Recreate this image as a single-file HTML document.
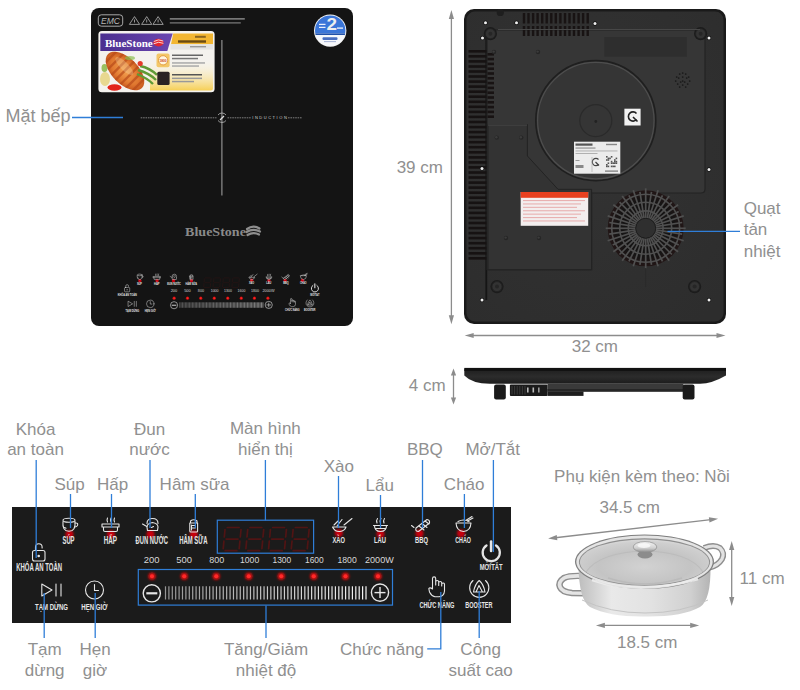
<!DOCTYPE html>
<html><head><meta charset="utf-8"><style>
html,body{margin:0;padding:0;background:#fff;}
body{width:800px;height:690px;position:relative;overflow:hidden;font-family:"Liberation Sans",sans-serif;}
.t{position:absolute;color:#909090;white-space:nowrap;}
svg{position:absolute;left:0;top:0;}
</style></head><body>
<svg width="800" height="690" viewBox="0 0 800 690">
<rect x="91" y="8" width="262" height="318" rx="8" fill="#141414"/>
<rect x="98.3" y="14.8" width="24.4" height="11.4" rx="3" fill="none" stroke="#b8b8b8" stroke-width="0.9"/>
<text x="101" y="24.2" font-family="Liberation Sans" font-style="italic" font-size="9.5" fill="#b8b8b8" textLength="19" lengthAdjust="spacingAndGlyphs">EMC</text>
<path d="M134.5 16.6 L139.6 24.4 H129.4 Z" fill="none" stroke="#b8b8b8" stroke-width="0.8"/>
<path d="M134.5 19.5 V22.5" stroke="#b8b8b8" stroke-width="0.8"/>
<path d="M146.7 16.6 L151.8 24.4 H141.6 Z" fill="none" stroke="#b8b8b8" stroke-width="0.8"/>
<path d="M146.7 19.5 V22.5" stroke="#b8b8b8" stroke-width="0.8"/>
<path d="M158.1 16.6 L163.2 24.4 H153.0 Z" fill="none" stroke="#b8b8b8" stroke-width="0.8"/>
<path d="M158.1 19.5 V22.5" stroke="#b8b8b8" stroke-width="0.8"/>
<rect x="169.8" y="18" width="75" height="1.7" fill="#777"/>
<rect x="169.8" y="22" width="71" height="1.7" fill="#5e5e5e"/>
<rect x="98.4" y="30.9" width="116.2" height="61.3" rx="3.5" fill="#f4f2ee"/>
<defs><linearGradient id="pur" x1="0" x2="1"><stop offset="0" stop-color="#4b2f8f"/><stop offset="1" stop-color="#6a46b0"/></linearGradient><linearGradient id="yel" x1="0" x2="0" y1="0" y2="1"><stop offset="0" stop-color="#fff8e0" stop-opacity="0"/><stop offset="1" stop-color="#f6cf55"/></linearGradient><radialGradient id="fish" cx="0.5" cy="0.5" r="0.5"><stop offset="0" stop-color="#f3a050"/><stop offset="0.7" stop-color="#e07830"/><stop offset="1" stop-color="#c85a20"/></radialGradient></defs>
<path d="M100.3 33.4 H172.7 L167.3 51 H100.3 Z" fill="url(#pur)"/>
<path d="M173.2 33.4 H213 V44.2 H171 Z" fill="#f2b632"/>
<rect x="170.4" y="44.2" width="42.6" height="5.4" fill="#e4e4e4"/>
<text x="104.9" y="47" font-family="Liberation Serif" font-weight="bold" font-size="10.5" fill="#fff" textLength="47.8" lengthAdjust="spacingAndGlyphs">BlueStone</text>
<ellipse cx="158.5" cy="42.6" rx="5.2" ry="3.8" fill="#e3262e"/>
<path d="M153.8 41.5 Q158.5 38.5 163.2 41 M153.6 43.8 Q158.5 41 163.4 43.3" fill="none" stroke="#fff" stroke-width="0.8"/>
<rect x="195" y="35.8" width="10.8" height="2" fill="#8a6520"/>
<rect x="178" y="40.3" width="28" height="2.4" fill="#6a4a12"/>
<rect x="190" y="46" width="16" height="1.4" fill="#999"/>
<path d="M150 60 H213 V88 Q213 90.5 210.5 90.5 H150 Z" fill="url(#yel)"/>
<ellipse cx="105" cy="79" rx="5" ry="7" fill="#e8d890"/>
<ellipse cx="104.5" cy="68" rx="3" ry="4" fill="#9ac060"/>
<clipPath id="fishc"><ellipse cx="125" cy="71" rx="24" ry="13"/></clipPath>
<g transform="rotate(45 125 71)"><ellipse cx="125" cy="71" rx="24" ry="13" fill="url(#fish)"/><g clip-path="url(#fishc)"><rect x="104.0" y="56" width="2.4" height="30" fill="#b84a1a" opacity="0.7"/><rect x="110.5" y="56" width="2.4" height="30" fill="#b84a1a" opacity="0.7"/><rect x="117.0" y="56" width="2.4" height="30" fill="#b84a1a" opacity="0.7"/><rect x="123.5" y="56" width="2.4" height="30" fill="#b84a1a" opacity="0.7"/><rect x="130.0" y="56" width="2.4" height="30" fill="#b84a1a" opacity="0.7"/><rect x="136.5" y="56" width="2.4" height="30" fill="#b84a1a" opacity="0.7"/><rect x="143.0" y="56" width="2.4" height="30" fill="#b84a1a" opacity="0.7"/></g><ellipse cx="121" cy="68" rx="12" ry="4" fill="#f8e0b0" opacity="0.3"/></g>
<path d="M140 66 Q150 68 157 75 M138 70 Q149 73 156 80 M137 74 Q147 78 153 84" stroke="#5f9a35" stroke-width="2.4" fill="none"/>
<ellipse cx="114.5" cy="87.5" rx="7" ry="3.2" fill="#e2231a"/>
<circle cx="140.2" cy="63.5" r="2.6" fill="#e23a2a"/>
<ellipse cx="130" cy="58" rx="5" ry="2" fill="#8abf50" opacity="0.7"/>
<rect x="156.5" y="53.4" width="13.1" height="13.8" rx="2" fill="#f3c768"/>
<circle cx="163.1" cy="60.3" r="4.6" fill="#fff6e0" stroke="#e0902a" stroke-width="0.8"/>
<text x="159.6" y="61.8" font-family="Liberation Sans" font-weight="bold" font-size="3.6" fill="#c84010" textLength="7" lengthAdjust="spacingAndGlyphs">1800</text>
<rect x="157.3" y="71.8" width="12.3" height="13.2" rx="1.5" fill="#2b2323"/>
<rect x="172" y="54.5" width="31" height="1.5" fill="#666"/>
<rect x="172" y="57.8" width="26" height="1.5" fill="#777"/>
<rect x="172" y="62.2" width="33" height="1.5" fill="#aaa"/>
<rect x="172" y="65.3" width="27" height="1.5" fill="#aaa"/>
<rect x="172" y="74" width="30" height="1.5" fill="#555"/>
<rect x="172" y="77.6" width="30" height="1.5" fill="#999"/>
<rect x="172" y="80.8" width="22" height="1.5" fill="#999"/>
<line x1="221.9" y1="40" x2="221.9" y2="195.5" stroke="#9a9a9a" stroke-width="1.1"/>
<line x1="140.7" y1="117.8" x2="216.5" y2="117.8" stroke="#8a8a8a" stroke-width="0.9" stroke-dasharray="1.6 0.8"/>
<line x1="227.5" y1="117.8" x2="251" y2="117.8" stroke="#8a8a8a" stroke-width="0.9" stroke-dasharray="1.6 0.8"/>
<line x1="288" y1="117.8" x2="302.2" y2="117.8" stroke="#8a8a8a" stroke-width="0.9" stroke-dasharray="1.6 0.8"/>
<text x="252.3" y="119.4" font-family="Liberation Sans" font-size="4" fill="#cfcfcf" textLength="34.5" lengthAdjust="spacing">INDUCTION</text>
<path d="M218 115 A5 5 0 0 1 226 115 M226 120.5 A5 5 0 0 1 218 120.5" fill="none" stroke="#bbb" stroke-width="0.8"/>
<path d="M220 120 L224 116" stroke="#ddd" stroke-width="1.2"/>
<clipPath id="wc"><circle cx="330.2" cy="30.6" r="15.2"/></clipPath>
<circle cx="330.2" cy="30.6" r="16.2" fill="#f4f4f4"/>
<g clip-path="url(#wc)"><rect x="314" y="14" width="33" height="19.5" fill="#3b76d8"/><rect x="314" y="33.5" width="33" height="1.6" fill="#1f4fa8"/><rect x="314" y="35.1" width="33" height="12" fill="#f6f8fc"/></g>
<text x="326.6" y="30.2" font-family="Liberation Sans" font-weight="bold" font-size="16.5" fill="#eeeeee" textLength="10.5" lengthAdjust="spacingAndGlyphs">2</text>
<rect x="319" y="23.8" width="6.5" height="1.1" fill="#fff"/><rect x="319" y="26.8" width="6.5" height="1.1" fill="#fff"/><rect x="337" y="27.5" width="6" height="1.2" fill="#fff"/>
<rect x="322.5" y="37.3" width="15" height="2.6" fill="#4a6fc0" rx="1"/><rect x="324" y="41.2" width="12" height="0.9" fill="#9aaad0"/>
<text x="185.1" y="236.3" font-family="Liberation Serif" font-weight="bold" font-size="13.5" fill="#8a8a8a" textLength="60.8" lengthAdjust="spacingAndGlyphs">BlueStone</text>
<path d="M247 229 Q253 224.5 259.5 228.5 M246.5 232 Q253 228 260 231.5 M247.5 235 Q253 231.5 259 234.5" fill="none" stroke="#8e8e8e" stroke-width="2.2" stroke-linecap="round"/>
<g transform="translate(111.04,59) scale(0.415)"><circle cx="69.5" cy="534.3" r="4" fill="#c80010" filter="url(#glow)"/>
<circle cx="111" cy="534.3" r="4" fill="#c80010" filter="url(#glow)"/>
<circle cx="150.5" cy="534.3" r="4" fill="#c80010" filter="url(#glow)"/>
<circle cx="193.8" cy="534.3" r="4" fill="#c80010" filter="url(#glow)"/>
<circle cx="338.8" cy="533" r="4" fill="#c80010" filter="url(#glow)"/>
<circle cx="380.5" cy="534" r="4" fill="#c80010" filter="url(#glow)"/>
<circle cx="419.5" cy="533.5" r="4" fill="#c80010" filter="url(#glow)"/>
<circle cx="461" cy="533.5" r="4" fill="#c80010" filter="url(#glow)"/>
<circle cx="152" cy="576.3" r="3.8" fill="#d01010" filter="url(#glow)"/>
<circle cx="152" cy="576.3" r="2.0" fill="#ff2a2a"/>
<circle cx="184.25" cy="576.3" r="3.8" fill="#d01010" filter="url(#glow)"/>
<circle cx="184.25" cy="576.3" r="2.0" fill="#ff2a2a"/>
<circle cx="216.25" cy="576.3" r="3.8" fill="#d01010" filter="url(#glow)"/>
<circle cx="216.25" cy="576.3" r="2.0" fill="#ff2a2a"/>
<circle cx="248.75" cy="576.3" r="3.8" fill="#d01010" filter="url(#glow)"/>
<circle cx="248.75" cy="576.3" r="2.0" fill="#ff2a2a"/>
<circle cx="281.25" cy="576.3" r="3.8" fill="#d01010" filter="url(#glow)"/>
<circle cx="281.25" cy="576.3" r="2.0" fill="#ff2a2a"/>
<circle cx="313.75" cy="576.3" r="3.8" fill="#d01010" filter="url(#glow)"/>
<circle cx="313.75" cy="576.3" r="2.0" fill="#ff2a2a"/>
<circle cx="345.5" cy="576.3" r="3.8" fill="#d01010" filter="url(#glow)"/>
<circle cx="345.5" cy="576.3" r="2.0" fill="#ff2a2a"/>
<circle cx="378" cy="576.3" r="3.8" fill="#d01010" filter="url(#glow)"/>
<circle cx="378" cy="576.3" r="2.0" fill="#ff2a2a"/>
<text x="62.5" y="543.6" font-family="Liberation Sans" font-weight="bold" font-size="10.28" fill="#e6e6e6" textLength="12.00" lengthAdjust="spacingAndGlyphs">SÚP</text>
<text x="103.75" y="543.6" font-family="Liberation Sans" font-weight="bold" font-size="10.28" fill="#e6e6e6" textLength="13.25" lengthAdjust="spacingAndGlyphs">HẤP</text>
<text x="135.5" y="543.6" font-family="Liberation Sans" font-weight="bold" font-size="10.28" fill="#e6e6e6" textLength="32.50" lengthAdjust="spacingAndGlyphs">ĐUN NƯỚC</text>
<text x="179.25" y="543.6" font-family="Liberation Sans" font-weight="bold" font-size="10.28" fill="#e6e6e6" textLength="28.25" lengthAdjust="spacingAndGlyphs">HÂM SỮA</text>
<text x="332.5" y="543.0" font-family="Liberation Sans" font-weight="bold" font-size="9.44" fill="#e6e6e6" textLength="12.50" lengthAdjust="spacingAndGlyphs">XÀO</text>
<text x="374" y="543.0" font-family="Liberation Sans" font-weight="bold" font-size="9.44" fill="#e6e6e6" textLength="12.00" lengthAdjust="spacingAndGlyphs">LẨU</text>
<text x="415" y="542.8" font-family="Liberation Sans" font-weight="bold" font-size="8.75" fill="#e6e6e6" textLength="13.00" lengthAdjust="spacingAndGlyphs">BBQ</text>
<text x="455.25" y="542.8" font-family="Liberation Sans" font-weight="bold" font-size="8.75" fill="#e6e6e6" textLength="15.75" lengthAdjust="spacingAndGlyphs">CHÁO</text>
<text x="16.25" y="571.2" font-family="Liberation Sans" font-weight="bold" font-size="10.00" fill="#e6e6e6" textLength="45.75" lengthAdjust="spacingAndGlyphs">KHÓA AN TOÀN</text>
<text x="35" y="609.6" font-family="Liberation Sans" font-weight="bold" font-size="9.86" fill="#e6e6e6" textLength="33.00" lengthAdjust="spacingAndGlyphs">TẠM DỪNG</text>
<text x="81.25" y="609.6" font-family="Liberation Sans" font-weight="bold" font-size="9.86" fill="#e6e6e6" textLength="26.25" lengthAdjust="spacingAndGlyphs">HẸN GIỜ</text>
<text x="479.75" y="569.9" font-family="Liberation Sans" font-weight="bold" font-size="8.75" fill="#e6e6e6" textLength="22.75" lengthAdjust="spacingAndGlyphs">MỞ/TẮT</text>
<text x="419.4" y="608.3" font-family="Liberation Sans" font-weight="bold" font-size="9.72" fill="#e6e6e6" textLength="35.00" lengthAdjust="spacingAndGlyphs">CHỨC NĂNG</text>
<text x="465.2" y="608.3" font-family="Liberation Sans" font-weight="bold" font-size="9.72" fill="#e6e6e6" textLength="27.30" lengthAdjust="spacingAndGlyphs">BOOSTER</text>
<text x="143.75" y="562.6" font-family="Liberation Sans" font-weight="normal" font-size="8.80" fill="#d8d8d8" textLength="15.75" lengthAdjust="spacingAndGlyphs">200</text>
<text x="176.25" y="562.6" font-family="Liberation Sans" font-weight="normal" font-size="8.80" fill="#d8d8d8" textLength="15.75" lengthAdjust="spacingAndGlyphs">500</text>
<text x="209.25" y="562.6" font-family="Liberation Sans" font-weight="normal" font-size="8.80" fill="#d8d8d8" textLength="15.00" lengthAdjust="spacingAndGlyphs">800</text>
<text x="240" y="562.6" font-family="Liberation Sans" font-weight="normal" font-size="8.80" fill="#d8d8d8" textLength="19.25" lengthAdjust="spacingAndGlyphs">1000</text>
<text x="272.5" y="562.6" font-family="Liberation Sans" font-weight="normal" font-size="8.80" fill="#d8d8d8" textLength="18.75" lengthAdjust="spacingAndGlyphs">1300</text>
<text x="305" y="562.6" font-family="Liberation Sans" font-weight="normal" font-size="8.80" fill="#d8d8d8" textLength="18.75" lengthAdjust="spacingAndGlyphs">1600</text>
<text x="337.5" y="562.6" font-family="Liberation Sans" font-weight="normal" font-size="8.80" fill="#d8d8d8" textLength="19.25" lengthAdjust="spacingAndGlyphs">1800</text>
<text x="365" y="562.6" font-family="Liberation Sans" font-weight="normal" font-size="8.80" fill="#d8d8d8" textLength="28.75" lengthAdjust="spacingAndGlyphs">2000W</text>
<line x1="227.3" y1="527.5" x2="239.1" y2="527.5" stroke="#2a1414" stroke-width="1.7" stroke-linecap="round"/>
<line x1="226.2" y1="539.1" x2="238.0" y2="539.1" stroke="#2a1414" stroke-width="1.7" stroke-linecap="round"/>
<line x1="225.1" y1="550.7" x2="236.9" y2="550.7" stroke="#2a1414" stroke-width="1.7" stroke-linecap="round"/>
<line x1="225.0" y1="529.6" x2="224.3" y2="537.0" stroke="#2a1414" stroke-width="1.7" stroke-linecap="round"/>
<line x1="223.9" y1="541.2" x2="223.2" y2="548.6" stroke="#2a1414" stroke-width="1.7" stroke-linecap="round"/>
<line x1="241.0" y1="529.6" x2="240.3" y2="537.0" stroke="#2a1414" stroke-width="1.7" stroke-linecap="round"/>
<line x1="239.9" y1="541.2" x2="239.2" y2="548.6" stroke="#2a1414" stroke-width="1.7" stroke-linecap="round"/>
<line x1="250.0" y1="527.5" x2="261.8" y2="527.5" stroke="#2a1414" stroke-width="1.7" stroke-linecap="round"/>
<line x1="248.9" y1="539.1" x2="260.7" y2="539.1" stroke="#2a1414" stroke-width="1.7" stroke-linecap="round"/>
<line x1="247.8" y1="550.7" x2="259.6" y2="550.7" stroke="#2a1414" stroke-width="1.7" stroke-linecap="round"/>
<line x1="247.7" y1="529.6" x2="247.0" y2="537.0" stroke="#2a1414" stroke-width="1.7" stroke-linecap="round"/>
<line x1="246.6" y1="541.2" x2="245.9" y2="548.6" stroke="#2a1414" stroke-width="1.7" stroke-linecap="round"/>
<line x1="263.7" y1="529.6" x2="263.0" y2="537.0" stroke="#2a1414" stroke-width="1.7" stroke-linecap="round"/>
<line x1="262.6" y1="541.2" x2="261.9" y2="548.6" stroke="#2a1414" stroke-width="1.7" stroke-linecap="round"/>
<line x1="272.7" y1="527.5" x2="284.5" y2="527.5" stroke="#2a1414" stroke-width="1.7" stroke-linecap="round"/>
<line x1="271.6" y1="539.1" x2="283.4" y2="539.1" stroke="#2a1414" stroke-width="1.7" stroke-linecap="round"/>
<line x1="270.5" y1="550.7" x2="282.3" y2="550.7" stroke="#2a1414" stroke-width="1.7" stroke-linecap="round"/>
<line x1="270.4" y1="529.6" x2="269.7" y2="537.0" stroke="#2a1414" stroke-width="1.7" stroke-linecap="round"/>
<line x1="269.3" y1="541.2" x2="268.6" y2="548.6" stroke="#2a1414" stroke-width="1.7" stroke-linecap="round"/>
<line x1="286.4" y1="529.6" x2="285.7" y2="537.0" stroke="#2a1414" stroke-width="1.7" stroke-linecap="round"/>
<line x1="285.3" y1="541.2" x2="284.6" y2="548.6" stroke="#2a1414" stroke-width="1.7" stroke-linecap="round"/>
<line x1="295.4" y1="527.5" x2="307.2" y2="527.5" stroke="#2a1414" stroke-width="1.7" stroke-linecap="round"/>
<line x1="294.3" y1="539.1" x2="306.1" y2="539.1" stroke="#2a1414" stroke-width="1.7" stroke-linecap="round"/>
<line x1="293.2" y1="550.7" x2="305.0" y2="550.7" stroke="#2a1414" stroke-width="1.7" stroke-linecap="round"/>
<line x1="293.1" y1="529.6" x2="292.4" y2="537.0" stroke="#2a1414" stroke-width="1.7" stroke-linecap="round"/>
<line x1="292.0" y1="541.2" x2="291.3" y2="548.6" stroke="#2a1414" stroke-width="1.7" stroke-linecap="round"/>
<line x1="309.1" y1="529.6" x2="308.4" y2="537.0" stroke="#2a1414" stroke-width="1.7" stroke-linecap="round"/>
<line x1="308.0" y1="541.2" x2="307.3" y2="548.6" stroke="#2a1414" stroke-width="1.7" stroke-linecap="round"/>
<line x1="165.50" y1="586.3" x2="165.50" y2="599.5" stroke="rgb(150,150,150)" stroke-width="1.2"/>
<line x1="168.90" y1="586.3" x2="168.90" y2="599.5" stroke="rgb(151,151,151)" stroke-width="1.2"/>
<line x1="172.30" y1="586.3" x2="172.30" y2="599.5" stroke="rgb(153,153,153)" stroke-width="1.2"/>
<line x1="175.69" y1="586.3" x2="175.69" y2="599.5" stroke="rgb(154,154,154)" stroke-width="1.2"/>
<line x1="179.09" y1="586.3" x2="179.09" y2="599.5" stroke="rgb(156,156,156)" stroke-width="1.2"/>
<line x1="182.49" y1="586.3" x2="182.49" y2="599.5" stroke="rgb(158,158,158)" stroke-width="1.2"/>
<line x1="185.89" y1="586.3" x2="185.89" y2="599.5" stroke="rgb(159,159,159)" stroke-width="1.2"/>
<line x1="189.29" y1="586.3" x2="189.29" y2="599.5" stroke="rgb(161,161,161)" stroke-width="1.2"/>
<line x1="192.69" y1="586.3" x2="192.69" y2="599.5" stroke="rgb(162,162,162)" stroke-width="1.2"/>
<line x1="196.08" y1="586.3" x2="196.08" y2="599.5" stroke="rgb(164,164,164)" stroke-width="1.2"/>
<line x1="199.48" y1="586.3" x2="199.48" y2="599.5" stroke="rgb(166,166,166)" stroke-width="1.2"/>
<line x1="202.88" y1="586.3" x2="202.88" y2="599.5" stroke="rgb(167,167,167)" stroke-width="1.2"/>
<line x1="206.28" y1="586.3" x2="206.28" y2="599.5" stroke="rgb(169,169,169)" stroke-width="1.2"/>
<line x1="209.68" y1="586.3" x2="209.68" y2="599.5" stroke="rgb(170,170,170)" stroke-width="1.2"/>
<line x1="213.08" y1="586.3" x2="213.08" y2="599.5" stroke="rgb(172,172,172)" stroke-width="1.2"/>
<line x1="216.47" y1="586.3" x2="216.47" y2="599.5" stroke="rgb(174,174,174)" stroke-width="1.2"/>
<line x1="219.87" y1="586.3" x2="219.87" y2="599.5" stroke="rgb(175,175,175)" stroke-width="1.2"/>
<line x1="223.27" y1="586.3" x2="223.27" y2="599.5" stroke="rgb(177,177,177)" stroke-width="1.2"/>
<line x1="226.67" y1="586.3" x2="226.67" y2="599.5" stroke="rgb(178,178,178)" stroke-width="1.2"/>
<line x1="230.07" y1="586.3" x2="230.07" y2="599.5" stroke="rgb(180,180,180)" stroke-width="1.2"/>
<line x1="233.47" y1="586.3" x2="233.47" y2="599.5" stroke="rgb(182,182,182)" stroke-width="1.2"/>
<line x1="236.86" y1="586.3" x2="236.86" y2="599.5" stroke="rgb(183,183,183)" stroke-width="1.2"/>
<line x1="240.26" y1="586.3" x2="240.26" y2="599.5" stroke="rgb(185,185,185)" stroke-width="1.2"/>
<line x1="243.66" y1="586.3" x2="243.66" y2="599.5" stroke="rgb(187,187,187)" stroke-width="1.2"/>
<line x1="247.06" y1="586.3" x2="247.06" y2="599.5" stroke="rgb(188,188,188)" stroke-width="1.2"/>
<line x1="250.46" y1="586.3" x2="250.46" y2="599.5" stroke="rgb(190,190,190)" stroke-width="1.2"/>
<line x1="253.86" y1="586.3" x2="253.86" y2="599.5" stroke="rgb(191,191,191)" stroke-width="1.2"/>
<line x1="257.25" y1="586.3" x2="257.25" y2="599.5" stroke="rgb(193,193,193)" stroke-width="1.2"/>
<line x1="260.65" y1="586.3" x2="260.65" y2="599.5" stroke="rgb(195,195,195)" stroke-width="1.2"/>
<line x1="264.05" y1="586.3" x2="264.05" y2="599.5" stroke="rgb(196,196,196)" stroke-width="1.2"/>
<line x1="267.45" y1="586.3" x2="267.45" y2="599.5" stroke="rgb(198,198,198)" stroke-width="1.2"/>
<line x1="270.85" y1="586.3" x2="270.85" y2="599.5" stroke="rgb(199,199,199)" stroke-width="1.2"/>
<line x1="274.25" y1="586.3" x2="274.25" y2="599.5" stroke="rgb(201,201,201)" stroke-width="1.2"/>
<line x1="277.64" y1="586.3" x2="277.64" y2="599.5" stroke="rgb(203,203,203)" stroke-width="1.2"/>
<line x1="281.04" y1="586.3" x2="281.04" y2="599.5" stroke="rgb(204,204,204)" stroke-width="1.2"/>
<line x1="284.44" y1="586.3" x2="284.44" y2="599.5" stroke="rgb(206,206,206)" stroke-width="1.2"/>
<line x1="287.84" y1="586.3" x2="287.84" y2="599.5" stroke="rgb(207,207,207)" stroke-width="1.2"/>
<line x1="291.24" y1="586.3" x2="291.24" y2="599.5" stroke="rgb(209,209,209)" stroke-width="1.2"/>
<line x1="294.64" y1="586.3" x2="294.64" y2="599.5" stroke="rgb(211,211,211)" stroke-width="1.2"/>
<line x1="298.03" y1="586.3" x2="298.03" y2="599.5" stroke="rgb(212,212,212)" stroke-width="1.2"/>
<line x1="301.43" y1="586.3" x2="301.43" y2="599.5" stroke="rgb(214,214,214)" stroke-width="1.2"/>
<line x1="304.83" y1="586.3" x2="304.83" y2="599.5" stroke="rgb(216,216,216)" stroke-width="1.2"/>
<line x1="308.23" y1="586.3" x2="308.23" y2="599.5" stroke="rgb(217,217,217)" stroke-width="1.2"/>
<line x1="311.63" y1="586.3" x2="311.63" y2="599.5" stroke="rgb(219,219,219)" stroke-width="1.2"/>
<line x1="315.03" y1="586.3" x2="315.03" y2="599.5" stroke="rgb(220,220,220)" stroke-width="1.2"/>
<line x1="318.42" y1="586.3" x2="318.42" y2="599.5" stroke="rgb(222,222,222)" stroke-width="1.2"/>
<line x1="321.82" y1="586.3" x2="321.82" y2="599.5" stroke="rgb(224,224,224)" stroke-width="1.2"/>
<line x1="325.22" y1="586.3" x2="325.22" y2="599.5" stroke="rgb(225,225,225)" stroke-width="1.2"/>
<line x1="328.62" y1="586.3" x2="328.62" y2="599.5" stroke="rgb(227,227,227)" stroke-width="1.2"/>
<line x1="332.02" y1="586.3" x2="332.02" y2="599.5" stroke="rgb(228,228,228)" stroke-width="1.2"/>
<line x1="335.42" y1="586.3" x2="335.42" y2="599.5" stroke="rgb(230,230,230)" stroke-width="1.2"/>
<line x1="338.81" y1="586.3" x2="338.81" y2="599.5" stroke="rgb(232,232,232)" stroke-width="1.2"/>
<line x1="342.21" y1="586.3" x2="342.21" y2="599.5" stroke="rgb(233,233,233)" stroke-width="1.2"/>
<line x1="345.61" y1="586.3" x2="345.61" y2="599.5" stroke="rgb(235,235,235)" stroke-width="1.2"/>
<line x1="349.01" y1="586.3" x2="349.01" y2="599.5" stroke="rgb(236,236,236)" stroke-width="1.2"/>
<line x1="352.41" y1="586.3" x2="352.41" y2="599.5" stroke="rgb(238,238,238)" stroke-width="1.2"/>
<line x1="355.81" y1="586.3" x2="355.81" y2="599.5" stroke="rgb(240,240,240)" stroke-width="1.2"/>
<line x1="359.20" y1="586.3" x2="359.20" y2="599.5" stroke="rgb(241,241,241)" stroke-width="1.2"/>
<line x1="362.60" y1="586.3" x2="362.60" y2="599.5" stroke="rgb(243,243,243)" stroke-width="1.2"/>
<line x1="366.00" y1="586.3" x2="366.00" y2="599.5" stroke="rgb(245,245,245)" stroke-width="1.2"/>
<circle cx="151.8" cy="593.3" r="8.6" fill="none" stroke="#e6e6e6" stroke-width="1.4"/>
<line x1="146.3" y1="593.3" x2="157.3" y2="593.3" stroke="#e6e6e6" stroke-width="2.2"/>
<circle cx="380" cy="592.6" r="8.6" fill="none" stroke="#e6e6e6" stroke-width="1.4"/>
<line x1="374.5" y1="592.6" x2="385.5" y2="592.6" stroke="#e6e6e6" stroke-width="1.4"/>
<line x1="380" y1="587.1" x2="380" y2="598.1" stroke="#e6e6e6" stroke-width="1.4"/>
<rect x="32.5" y="550.5" width="12.5" height="10.5" rx="2" fill="none" stroke="#e6e6e6" stroke-width="1.1" stroke-linecap="round" stroke-linejoin="round"/>
<path d="M35.5 550.5 V547 A3.3 3.3 0 0 1 42.1 547 V548" fill="none" stroke="#e6e6e6" stroke-width="1.1" stroke-linecap="round" stroke-linejoin="round"/>
<circle cx="38.7" cy="556" r="1.3" fill="#e6e6e6"/>
<path d="M41.8 584 L52 590 L41.8 596 Z" fill="none" stroke="#e6e6e6" stroke-width="1.1" stroke-linecap="round" stroke-linejoin="round"/>
<line x1="56" y1="584" x2="56" y2="596" fill="none" stroke="#e6e6e6" stroke-width="1.1" stroke-linecap="round" stroke-linejoin="round"/>
<line x1="61" y1="584" x2="61" y2="596" fill="none" stroke="#e6e6e6" stroke-width="1.1" stroke-linecap="round" stroke-linejoin="round"/>
<circle cx="94.5" cy="590" r="9" fill="none" stroke="#e6e6e6" stroke-width="1.1" stroke-linecap="round" stroke-linejoin="round"/>
<path d="M94.5 584.5 V590.5 H98.5" fill="none" stroke="#e6e6e6" stroke-width="1.1" stroke-linecap="round" stroke-linejoin="round"/>
<path d="M486.5 545.5 A8.6 8.6 0 1 0 496 545.5" fill="none" stroke="#e6e6e6" stroke-width="2.3" stroke-linecap="round"/>
<line x1="491.1" y1="541.5" x2="491.1" y2="551" stroke="#e6e6e6" stroke-width="2.6" stroke-linecap="round"/>
<path d="M432.5 589 V578.5 A1.6 1.6 0 0 1 435.7 578.5 V585 M435.7 582 A1.5 1.5 0 0 1 438.7 582 V585.5 M438.7 583 A1.5 1.5 0 0 1 441.7 583 V586 M441.7 584 A1.5 1.5 0 0 1 444.5 584 V591 Q444 596.5 439 596.8 H435 Q431.5 596 429.5 592 L428.8 588.5 Q430 587 432.5 589" fill="none" stroke="#e6e6e6" stroke-width="1.1" stroke-linecap="round" stroke-linejoin="round"/>
<path d="M473 580.5 A9.6 9.6 0 1 0 485.5 580.5" fill="none" stroke="#e6e6e6" stroke-width="1.1" stroke-linecap="round" stroke-linejoin="round"/>
<path d="M473.5 592 Q475 584 479.2 580.5 Q483.5 584 485 592 Z M476 592 L479 585.5 L482.5 592" fill="none" stroke="#e6e6e6" stroke-width="1.1" stroke-linecap="round" stroke-linejoin="round"/>
<ellipse cx="69" cy="520.3" rx="6" ry="2" fill="none" stroke="#e6e6e6" stroke-width="1.1" stroke-linecap="round" stroke-linejoin="round"/>
<path d="M63 521.5 Q62 531 69 531.3 Q76 531 75 521.5" fill="none" stroke="#e6e6e6" stroke-width="1.1" stroke-linecap="round" stroke-linejoin="round"/>
<path d="M75 523 Q78.5 522.5 77.5 525.5 Q76.5 527 75 527" fill="none" stroke="#e6e6e6" stroke-width="1.1" stroke-linecap="round" stroke-linejoin="round"/>
<path d="M64.5 527.5 L66 528.2" fill="none" stroke="#e6e6e6" stroke-width="1.1" stroke-linecap="round" stroke-linejoin="round"/>
<path d="M102 524 H119 V527 H102 Z M103.5 527 V530 Q103.5 531.5 105 531.5 H116 Q117.5 531.5 117.5 530 V527" fill="none" stroke="#e6e6e6" stroke-width="1.1" stroke-linecap="round" stroke-linejoin="round"/>
<path d="M107.5 522 Q106.5 520 107.5 518 M111 522 Q110 520 111 518 M114.5 522 Q113.5 520 114.5 518" fill="none" stroke="#e6e6e6" stroke-width="1.1" stroke-linecap="round" stroke-linejoin="round"/>
<path d="M147.5 530.5 Q145 523.5 152.5 522.5 Q160 523.5 157.5 530.5 Z" fill="none" stroke="#e6e6e6" stroke-width="1.1" stroke-linecap="round" stroke-linejoin="round"/>
<path d="M147 523.5 Q147 518.5 152.5 518.5 Q158 518.5 158 523.5" fill="none" stroke="#e6e6e6" stroke-width="1.1" stroke-linecap="round" stroke-linejoin="round"/>
<path d="M146.8 526.5 L142.5 524" fill="none" stroke="#e6e6e6" stroke-width="1.1" stroke-linecap="round" stroke-linejoin="round"/>
<path d="M151.5 527.5 L153.5 526.5" fill="none" stroke="#e6e6e6" stroke-width="1.1" stroke-linecap="round" stroke-linejoin="round"/>
<path d="M189.8 523 H197.6 V531 Q197.6 532 196.6 532 H190.8 Q189.8 532 189.8 531 Z M190.5 523 V521 Q193.7 518.5 197 521 V523" fill="none" stroke="#e6e6e6" stroke-width="1.1" stroke-linecap="round" stroke-linejoin="round"/>
<path d="M192.2 525.5 H195.2 M192.2 528 H195.2 M191.5 525 V530" fill="none" stroke="#e6e6e6" stroke-width="1.1" stroke-linecap="round" stroke-linejoin="round"/>
<path d="M332.5 527 Q335 532 340 531.5 Q344.5 531 346 527 Z" fill="none" stroke="#e6e6e6" stroke-width="1.1" stroke-linecap="round" stroke-linejoin="round"/>
<path d="M344 525 L352 518.5" fill="none" stroke="#e6e6e6" stroke-width="1.1" stroke-linecap="round" stroke-linejoin="round"/>
<path d="M334 525 L338 521 M337 526 L342 519.5" fill="none" stroke="#e6e6e6" stroke-width="1.1" stroke-linecap="round" stroke-linejoin="round"/>
<path d="M373.5 525.5 H387.5 M374.5 525.5 Q374.5 531.5 380.5 531.5 Q386.5 531.5 386.5 525.5 M375.5 528.5 H385.5" fill="none" stroke="#e6e6e6" stroke-width="1.1" stroke-linecap="round" stroke-linejoin="round"/>
<path d="M377 523 Q376 520.5 377.5 518.5 M380.5 523 Q379.5 520.5 381 518.5 M384 523 Q383 520.5 384.5 518.5" fill="none" stroke="#e6e6e6" stroke-width="1.1" stroke-linecap="round" stroke-linejoin="round"/>
<path d="M416 528 L427 519.5 Q430 520 429.5 523 L418.5 531.5 Q415 531.5 416 528 Z" fill="none" stroke="#e6e6e6" stroke-width="1.1" stroke-linecap="round" stroke-linejoin="round"/>
<path d="M419 526 L424 530 M422 523.5 L427 527.5 M425 521 L429 524" fill="none" stroke="#e6e6e6" stroke-width="1.1" stroke-linecap="round" stroke-linejoin="round"/>
<path d="M414 527.5 L411.5 525.5" fill="none" stroke="#e6e6e6" stroke-width="1.1" stroke-linecap="round" stroke-linejoin="round"/>
<path d="M456 523 Q456.5 531 463.5 531.5 Q470.5 531 471 523 Z" fill="none" stroke="#e6e6e6" stroke-width="1.1" stroke-linecap="round" stroke-linejoin="round"/>
<path d="M458 521.5 Q463.5 518.5 469 521.5" fill="none" stroke="#e6e6e6" stroke-width="1.1" stroke-linecap="round" stroke-linejoin="round"/>
<path d="M466.5 520 L472 516.5 M467.5 521 L473 518" fill="none" stroke="#e6e6e6" stroke-width="1.1" stroke-linecap="round" stroke-linejoin="round"/></g>
<defs><radialGradient id="bodyg" cx="0.45" cy="0.4" r="0.75"><stop offset="0" stop-color="#333333"/><stop offset="1" stop-color="#2d2d2d"/></radialGradient><radialGradient id="fanr" cx="0.5" cy="0.5" r="0.5"><stop offset="0" stop-color="#121212"/><stop offset="0.75" stop-color="#161414"/><stop offset="1" stop-color="#221616"/></radialGradient></defs>
<rect x="464" y="9" width="262" height="315" rx="10" fill="#1a1a1a"/>
<rect x="466.5" y="11.5" width="257" height="310" rx="8.5" fill="url(#bodyg)"/>
<line x1="486.3" y1="30" x2="486.3" y2="300" stroke="#151515" stroke-width="1.8"/>
<path d="M487 30 H705 V189 Q705 193 701 193 H591.6 V269.7 H487 Z" fill="#363636" stroke="#232323" stroke-width="1.2"/>
<rect x="468.5" y="50.0" width="18" height="2.6" fill="#161212"/>
<rect x="468.5" y="55.0" width="18" height="2.6" fill="#161212"/>
<rect x="468.5" y="60.1" width="18" height="2.6" fill="#161212"/>
<rect x="468.5" y="65.2" width="18" height="2.6" fill="#161212"/>
<rect x="468.5" y="70.2" width="18" height="2.6" fill="#161212"/>
<rect x="468.5" y="75.2" width="18" height="2.6" fill="#161212"/>
<rect x="468.5" y="80.3" width="18" height="2.6" fill="#161212"/>
<rect x="468.5" y="85.3" width="18" height="2.6" fill="#161212"/>
<rect x="468.5" y="90.4" width="18" height="2.6" fill="#161212"/>
<rect x="468.5" y="95.4" width="18" height="2.6" fill="#161212"/>
<rect x="468.5" y="100.5" width="18" height="2.6" fill="#161212"/>
<rect x="468.5" y="105.5" width="18" height="2.6" fill="#161212"/>
<rect x="468.5" y="110.6" width="18" height="2.6" fill="#161212"/>
<rect x="468.5" y="115.6" width="18" height="2.6" fill="#161212"/>
<rect x="468.5" y="120.7" width="18" height="2.6" fill="#161212"/>
<rect x="468.5" y="125.8" width="18" height="2.6" fill="#161212"/>
<rect x="468.5" y="130.8" width="18" height="2.6" fill="#161212"/>
<rect x="468.5" y="135.8" width="18" height="2.6" fill="#161212"/>
<rect x="468.5" y="140.9" width="18" height="2.6" fill="#161212"/>
<rect x="468.5" y="145.9" width="18" height="2.6" fill="#161212"/>
<rect x="468.5" y="151.0" width="18" height="2.6" fill="#161212"/>
<rect x="468.5" y="156.1" width="18" height="2.6" fill="#161212"/>
<rect x="468.5" y="161.1" width="18" height="2.6" fill="#161212"/>
<rect x="468.5" y="166.1" width="18" height="2.6" fill="#161212"/>
<rect x="468.5" y="171.2" width="18" height="2.6" fill="#161212"/>
<rect x="468.5" y="176.2" width="18" height="2.6" fill="#161212"/>
<rect x="468.5" y="181.3" width="18" height="2.6" fill="#161212"/>
<rect x="468.5" y="186.3" width="18" height="2.6" fill="#161212"/>
<rect x="468.5" y="191.4" width="18" height="2.6" fill="#161212"/>
<rect x="468.5" y="196.4" width="18" height="2.6" fill="#161212"/>
<rect x="468.5" y="201.5" width="18" height="2.6" fill="#161212"/>
<rect x="468.5" y="206.5" width="18" height="2.6" fill="#161212"/>
<rect x="468.5" y="211.6" width="18" height="2.6" fill="#161212"/>
<rect x="468.5" y="216.7" width="18" height="2.6" fill="#161212"/>
<rect x="468.5" y="221.7" width="18" height="2.6" fill="#161212"/>
<rect x="468.5" y="226.8" width="18" height="2.6" fill="#161212"/>
<rect x="468.5" y="231.8" width="18" height="2.6" fill="#161212"/>
<rect x="468.5" y="236.8" width="18" height="2.6" fill="#161212"/>
<rect x="468.5" y="241.9" width="18" height="2.6" fill="#161212"/>
<rect x="468.5" y="246.9" width="18" height="2.6" fill="#161212"/>
<rect x="468.5" y="252.0" width="18" height="2.6" fill="#161212"/>
<rect x="468.5" y="257.0" width="18" height="2.6" fill="#161212"/>
<rect x="487.5" y="53.0" width="6.5" height="2.6" fill="#181313"/>
<rect x="487.5" y="57.8" width="6.5" height="2.6" fill="#181313"/>
<rect x="487.5" y="62.6" width="6.5" height="2.6" fill="#181313"/>
<rect x="487.5" y="67.4" width="6.5" height="2.6" fill="#181313"/>
<rect x="487.5" y="72.2" width="6.5" height="2.6" fill="#181313"/>
<rect x="487.5" y="77.0" width="6.5" height="2.6" fill="#181313"/>
<rect x="487.5" y="81.8" width="6.5" height="2.6" fill="#181313"/>
<rect x="487.5" y="86.6" width="6.5" height="2.6" fill="#181313"/>
<rect x="487.5" y="91.4" width="6.5" height="2.6" fill="#181313"/>
<rect x="487.5" y="96.2" width="6.5" height="2.6" fill="#181313"/>
<rect x="487.5" y="101.0" width="6.5" height="2.6" fill="#181313"/>
<rect x="487.5" y="105.8" width="6.5" height="2.6" fill="#181313"/>
<rect x="487.5" y="110.6" width="6.5" height="2.6" fill="#181313"/>
<rect x="487.5" y="115.4" width="6.5" height="2.6" fill="#181313"/>
<rect x="522.8" y="13" width="2.4" height="10.5" fill="#181313"/>
<rect x="522.8" y="26" width="2.4" height="10" fill="#181313"/>
<rect x="527.3" y="13" width="2.4" height="10.5" fill="#181313"/>
<rect x="527.3" y="26" width="2.4" height="10" fill="#181313"/>
<rect x="531.9" y="13" width="2.4" height="10.5" fill="#181313"/>
<rect x="531.9" y="26" width="2.4" height="10" fill="#181313"/>
<rect x="536.4" y="13" width="2.4" height="10.5" fill="#181313"/>
<rect x="536.4" y="26" width="2.4" height="10" fill="#181313"/>
<rect x="541.0" y="13" width="2.4" height="10.5" fill="#181313"/>
<rect x="541.0" y="26" width="2.4" height="10" fill="#181313"/>
<rect x="545.5" y="13" width="2.4" height="10.5" fill="#181313"/>
<rect x="545.5" y="26" width="2.4" height="10" fill="#181313"/>
<rect x="550.1" y="13" width="2.4" height="10.5" fill="#181313"/>
<rect x="550.1" y="26" width="2.4" height="10" fill="#181313"/>
<rect x="554.6" y="13" width="2.4" height="10.5" fill="#181313"/>
<rect x="554.6" y="26" width="2.4" height="10" fill="#181313"/>
<rect x="559.2" y="13" width="2.4" height="10.5" fill="#181313"/>
<rect x="559.2" y="26" width="2.4" height="10" fill="#181313"/>
<rect x="563.8" y="13" width="2.4" height="10.5" fill="#181313"/>
<rect x="563.8" y="26" width="2.4" height="10" fill="#181313"/>
<rect x="568.3" y="13" width="2.4" height="10.5" fill="#181313"/>
<rect x="568.3" y="26" width="2.4" height="10" fill="#181313"/>
<rect x="572.8" y="13" width="2.4" height="10.5" fill="#181313"/>
<rect x="572.8" y="26" width="2.4" height="10" fill="#181313"/>
<rect x="577.4" y="13" width="2.4" height="10.5" fill="#181313"/>
<rect x="577.4" y="26" width="2.4" height="10" fill="#181313"/>
<rect x="581.9" y="13" width="2.4" height="10.5" fill="#181313"/>
<rect x="581.9" y="26" width="2.4" height="10" fill="#181313"/>
<rect x="586.5" y="13" width="2.4" height="10.5" fill="#181313"/>
<rect x="586.5" y="26" width="2.4" height="10" fill="#181313"/>
<rect x="604.4" y="37" width="82.4" height="19.7" fill="#2e2e2e"/>
<path d="M527.4 124.5 H488 V269.7 H591.6 V189.3 H558 L527.4 156 Z" fill="#333333" stroke="#232323" stroke-width="1"/>
<path d="M488 125 H527" stroke="#4a4a4a" stroke-width="1"/>
<circle cx="595.8" cy="120.6" r="60" fill="#353535" stroke="#1f1f1f" stroke-width="1.6"/><circle cx="595.8" cy="120.6" r="58.2" fill="none" stroke="#4e4e4e" stroke-width="1.2"/>
<circle cx="595.8" cy="120.6" r="16" fill="none" stroke="#2a2a2a" stroke-width="1.2"/>
<circle cx="595.8" cy="121.5" r="1.4" fill="#222"/>
<rect x="624.4" y="108.7" width="16.2" height="16.8" fill="#f2f2f2"/>
<path d="M636.5 119.5 A4.6 4.6 0 1 1 636.5 113.5" fill="none" stroke="#222" stroke-width="1.6"/><path d="M633 117 L637.5 121.5" stroke="#222" stroke-width="1.6"/>
<rect x="574" y="141.7" width="46.3" height="32" fill="#ececec"/>
<rect x="575.5" y="143.5" width="17" height="2.2" fill="#555"/>
<rect x="606" y="143.8" width="11" height="1.4" fill="#888"/>
<rect x="575.5" y="147.5" width="20" height="1.1" fill="#888"/>
<rect x="575.5" y="150.5" width="42" height="0.9" fill="#aaa"/>
<rect x="575.5" y="153" width="22" height="0.9" fill="#aaa"/>
<rect x="575.5" y="160" width="4" height="1" fill="#999"/>
<rect x="575.5" y="165" width="8" height="3" fill="#888"/>
<rect x="605" y="170.5" width="13" height="1.2" fill="#777"/>
<path d="M598.5 164.5 A3.6 3.6 0 1 1 598.5 159.5" fill="none" stroke="#444" stroke-width="1.2"/><path d="M595.5 162 L599 165.5" stroke="#444" stroke-width="1.2"/>
<rect x="606.0" y="156.0" width="1.6" height="1.6" fill="#555"/>
<rect x="606.0" y="159.2" width="1.6" height="1.6" fill="#555"/>
<rect x="606.0" y="164.0" width="1.6" height="1.6" fill="#555"/>
<rect x="606.0" y="165.6" width="1.6" height="1.6" fill="#555"/>
<rect x="607.6" y="157.6" width="1.6" height="1.6" fill="#555"/>
<rect x="607.6" y="159.2" width="1.6" height="1.6" fill="#555"/>
<rect x="607.6" y="162.4" width="1.6" height="1.6" fill="#555"/>
<rect x="607.6" y="165.6" width="1.6" height="1.6" fill="#555"/>
<rect x="609.2" y="157.6" width="1.6" height="1.6" fill="#555"/>
<rect x="610.8" y="156.0" width="1.6" height="1.6" fill="#555"/>
<rect x="610.8" y="160.8" width="1.6" height="1.6" fill="#555"/>
<rect x="610.8" y="162.4" width="1.6" height="1.6" fill="#555"/>
<rect x="610.8" y="165.6" width="1.6" height="1.6" fill="#555"/>
<rect x="612.4" y="162.4" width="1.6" height="1.6" fill="#555"/>
<rect x="612.4" y="165.6" width="1.6" height="1.6" fill="#555"/>
<rect x="614.0" y="159.2" width="1.6" height="1.6" fill="#555"/>
<rect x="614.0" y="160.8" width="1.6" height="1.6" fill="#555"/>
<rect x="614.0" y="162.4" width="1.6" height="1.6" fill="#555"/>
<rect x="614.0" y="165.6" width="1.6" height="1.6" fill="#555"/>
<rect x="615.6" y="157.6" width="1.6" height="1.6" fill="#555"/>
<rect x="615.6" y="160.8" width="1.6" height="1.6" fill="#555"/>
<rect x="615.6" y="162.4" width="1.6" height="1.6" fill="#555"/>
<line x1="592" y1="157" x2="592" y2="172" stroke="#aaa" stroke-width="0.6"/>
<rect x="520.7" y="192" width="67.5" height="33.8" fill="#f3eeee"/>
<rect x="520.7" y="192" width="67.5" height="5.8" fill="#e8401f"/>
<rect x="523" y="200.0" width="62" height="1.1" fill="#e8b0b0"/>
<rect x="523" y="203.4" width="58" height="1.1" fill="#e8b0b0"/>
<rect x="523" y="206.8" width="54" height="1.1" fill="#e8b0b0"/>
<rect x="523" y="210.2" width="62" height="1.1" fill="#e8b0b0"/>
<rect x="523" y="213.6" width="58" height="1.1" fill="#e8b0b0"/>
<rect x="523" y="217.0" width="54" height="1.1" fill="#e8b0b0"/>
<rect x="523" y="220.4" width="62" height="1.1" fill="#e8b0b0"/>
<circle cx="645.7" cy="228.3" r="38" fill="url(#fanr)"/>
<circle cx="645.7" cy="228.3" r="17.4" fill="none" stroke="#505050" stroke-width="1.6"/>
<circle cx="645.7" cy="228.3" r="26" fill="none" stroke="#505050" stroke-width="1.6"/>
<circle cx="645.7" cy="228.3" r="34" fill="none" stroke="#505050" stroke-width="1.6"/>
<line x1="655.7" y1="228.3" x2="685.7" y2="228.3" stroke="#505050" stroke-width="1.7"/>
<line x1="655.6" y1="229.9" x2="682.2" y2="234.1" stroke="#505050" stroke-width="1.7"/>
<line x1="655.2" y1="231.4" x2="683.7" y2="240.7" stroke="#505050" stroke-width="1.7"/>
<line x1="654.6" y1="232.8" x2="678.7" y2="245.1" stroke="#505050" stroke-width="1.7"/>
<line x1="653.8" y1="234.2" x2="678.1" y2="251.8" stroke="#505050" stroke-width="1.7"/>
<line x1="652.8" y1="235.4" x2="671.9" y2="254.5" stroke="#505050" stroke-width="1.7"/>
<line x1="651.6" y1="236.4" x2="669.2" y2="260.7" stroke="#505050" stroke-width="1.7"/>
<line x1="650.2" y1="237.2" x2="662.5" y2="261.3" stroke="#505050" stroke-width="1.7"/>
<line x1="648.8" y1="237.8" x2="658.1" y2="266.3" stroke="#505050" stroke-width="1.7"/>
<line x1="647.3" y1="238.2" x2="651.5" y2="264.8" stroke="#505050" stroke-width="1.7"/>
<line x1="645.7" y1="238.3" x2="645.7" y2="268.3" stroke="#505050" stroke-width="1.7"/>
<line x1="644.1" y1="238.2" x2="639.9" y2="264.8" stroke="#505050" stroke-width="1.7"/>
<line x1="642.6" y1="237.8" x2="633.3" y2="266.3" stroke="#505050" stroke-width="1.7"/>
<line x1="641.2" y1="237.2" x2="628.9" y2="261.3" stroke="#505050" stroke-width="1.7"/>
<line x1="639.8" y1="236.4" x2="622.2" y2="260.7" stroke="#505050" stroke-width="1.7"/>
<line x1="638.6" y1="235.4" x2="619.5" y2="254.5" stroke="#505050" stroke-width="1.7"/>
<line x1="637.6" y1="234.2" x2="613.3" y2="251.8" stroke="#505050" stroke-width="1.7"/>
<line x1="636.8" y1="232.8" x2="612.7" y2="245.1" stroke="#505050" stroke-width="1.7"/>
<line x1="636.2" y1="231.4" x2="607.7" y2="240.7" stroke="#505050" stroke-width="1.7"/>
<line x1="635.8" y1="229.9" x2="609.2" y2="234.1" stroke="#505050" stroke-width="1.7"/>
<line x1="635.7" y1="228.3" x2="605.7" y2="228.3" stroke="#505050" stroke-width="1.7"/>
<line x1="635.8" y1="226.7" x2="609.2" y2="222.5" stroke="#505050" stroke-width="1.7"/>
<line x1="636.2" y1="225.2" x2="607.7" y2="215.9" stroke="#505050" stroke-width="1.7"/>
<line x1="636.8" y1="223.8" x2="612.7" y2="211.5" stroke="#505050" stroke-width="1.7"/>
<line x1="637.6" y1="222.4" x2="613.3" y2="204.8" stroke="#505050" stroke-width="1.7"/>
<line x1="638.6" y1="221.2" x2="619.5" y2="202.1" stroke="#505050" stroke-width="1.7"/>
<line x1="639.8" y1="220.2" x2="622.2" y2="195.9" stroke="#505050" stroke-width="1.7"/>
<line x1="641.2" y1="219.4" x2="628.9" y2="195.3" stroke="#505050" stroke-width="1.7"/>
<line x1="642.6" y1="218.8" x2="633.3" y2="190.3" stroke="#505050" stroke-width="1.7"/>
<line x1="644.1" y1="218.4" x2="639.9" y2="191.8" stroke="#505050" stroke-width="1.7"/>
<line x1="645.7" y1="218.3" x2="645.7" y2="188.3" stroke="#505050" stroke-width="1.7"/>
<line x1="647.3" y1="218.4" x2="651.5" y2="191.8" stroke="#505050" stroke-width="1.7"/>
<line x1="648.8" y1="218.8" x2="658.1" y2="190.3" stroke="#505050" stroke-width="1.7"/>
<line x1="650.2" y1="219.4" x2="662.5" y2="195.3" stroke="#505050" stroke-width="1.7"/>
<line x1="651.6" y1="220.2" x2="669.2" y2="195.9" stroke="#505050" stroke-width="1.7"/>
<line x1="652.8" y1="221.2" x2="671.9" y2="202.1" stroke="#505050" stroke-width="1.7"/>
<line x1="653.8" y1="222.4" x2="678.1" y2="204.8" stroke="#505050" stroke-width="1.7"/>
<line x1="654.6" y1="223.8" x2="678.7" y2="211.5" stroke="#505050" stroke-width="1.7"/>
<line x1="655.2" y1="225.2" x2="683.7" y2="215.9" stroke="#505050" stroke-width="1.7"/>
<line x1="655.6" y1="226.7" x2="682.2" y2="222.5" stroke="#505050" stroke-width="1.7"/>
<circle cx="645.7" cy="228.3" r="10" fill="#2f2f2f" stroke="#1a1a1a" stroke-width="0.8"/>
<line x1="645.7" y1="268" x2="645.6" y2="287" stroke="#2a2a2a" stroke-width="1"/>
<circle cx="676.7" cy="77" r="0.85" fill="#181818"/>
<circle cx="679.7" cy="74" r="0.85" fill="#181818"/>
<circle cx="682.7" cy="73" r="0.85" fill="#181818"/>
<circle cx="685.7" cy="74" r="0.85" fill="#181818"/>
<circle cx="688.7" cy="77" r="0.85" fill="#181818"/>
<circle cx="675.7" cy="81" r="0.85" fill="#181818"/>
<circle cx="678.7" cy="78" r="0.85" fill="#181818"/>
<circle cx="682.7" cy="77" r="0.85" fill="#181818"/>
<circle cx="686.7" cy="78" r="0.85" fill="#181818"/>
<circle cx="689.7" cy="81" r="0.85" fill="#181818"/>
<circle cx="677.7" cy="84" r="0.85" fill="#181818"/>
<circle cx="680.7" cy="82" r="0.85" fill="#181818"/>
<circle cx="684.7" cy="82" r="0.85" fill="#181818"/>
<circle cx="687.7" cy="84" r="0.85" fill="#181818"/>
<circle cx="679.7" cy="87" r="0.85" fill="#181818"/>
<circle cx="682.7" cy="85" r="0.85" fill="#181818"/>
<circle cx="685.7" cy="87" r="0.85" fill="#181818"/>
<circle cx="682.7" cy="81" r="0.85" fill="#181818"/>
<circle cx="490.4" cy="33.7" r="6.6" fill="#1c1c1c"/>
<circle cx="490.4" cy="33.7" r="5" fill="#333" stroke="#222" stroke-width="0.8"/>
<circle cx="490.4" cy="33.7" r="2" fill="#262626"/>
<circle cx="700.6" cy="33.7" r="6.6" fill="#1c1c1c"/>
<circle cx="700.6" cy="33.7" r="5" fill="#333" stroke="#222" stroke-width="0.8"/>
<circle cx="700.6" cy="33.7" r="2" fill="#262626"/>
<circle cx="497" cy="286.6" r="6.6" fill="#1c1c1c"/>
<circle cx="497" cy="286.6" r="5" fill="#333" stroke="#222" stroke-width="0.8"/>
<circle cx="497" cy="286.6" r="2" fill="#262626"/>
<circle cx="694.6" cy="286.6" r="6.6" fill="#1c1c1c"/>
<circle cx="694.6" cy="286.6" r="5" fill="#333" stroke="#222" stroke-width="0.8"/>
<circle cx="694.6" cy="286.6" r="2" fill="#262626"/>
<circle cx="500.3" cy="12.5" r="3.6" fill="#1e1e1e"/>
<line x1="498" y1="29.5" x2="700" y2="29.5" stroke="#474747" stroke-width="1"/>
<circle cx="485.5" cy="22.8" r="2.2" fill="#111"/><circle cx="485.5" cy="22.8" r="1.5" fill="#f0f0f0"/>
<circle cx="516.5" cy="22.8" r="2.2" fill="#111"/><circle cx="516.5" cy="22.8" r="1.5" fill="#f0f0f0"/>
<circle cx="595" cy="23.5" r="2.2" fill="#111"/><circle cx="595" cy="23.5" r="1.5" fill="#f0f0f0"/>
<circle cx="482.5" cy="38" r="2.2" fill="#111"/><circle cx="482.5" cy="38" r="1.5" fill="#f0f0f0"/>
<circle cx="709" cy="38" r="2.2" fill="#111"/><circle cx="709" cy="38" r="1.5" fill="#f0f0f0"/>
<circle cx="482" cy="168.4" r="2.2" fill="#111"/><circle cx="482" cy="168.4" r="1.5" fill="#f0f0f0"/>
<circle cx="709" cy="169.5" r="2.2" fill="#111"/><circle cx="709" cy="169.5" r="1.5" fill="#f0f0f0"/>
<circle cx="482" cy="300" r="2.2" fill="#111"/><circle cx="482" cy="300" r="1.5" fill="#f0f0f0"/>
<circle cx="709" cy="300" r="2.2" fill="#111"/><circle cx="709" cy="300" r="1.5" fill="#f0f0f0"/>
<circle cx="494" cy="52" r="2.2" fill="#262626"/><circle cx="493.6" cy="51.6" r="1.2" fill="#3c3c3c"/>
<circle cx="538" cy="52" r="2.2" fill="#262626"/><circle cx="537.6" cy="51.6" r="1.2" fill="#3c3c3c"/>
<circle cx="496.75" cy="137.6" r="2.2" fill="#262626"/><circle cx="496.35" cy="137.2" r="1.2" fill="#3c3c3c"/>
<circle cx="521.25" cy="137.6" r="2.2" fill="#262626"/><circle cx="520.85" cy="137.2" r="1.2" fill="#3c3c3c"/>
<circle cx="506" cy="238" r="2.2" fill="#262626"/><circle cx="505.6" cy="237.6" r="1.2" fill="#3c3c3c"/>
<circle cx="539" cy="238" r="2.2" fill="#262626"/><circle cx="538.6" cy="237.6" r="1.2" fill="#3c3c3c"/>
<defs><linearGradient id="sideg" x1="0" x2="0" y1="0" y2="1"><stop offset="0" stop-color="#161616"/><stop offset="0.2" stop-color="#222"/><stop offset="0.55" stop-color="#2c2c2c"/><stop offset="1" stop-color="#1c1c1c"/></linearGradient></defs>
<path d="M466 367.9 H724 Q726 367.9 726 370 V375.5 Q712 383.6 700 383.8 H490 Q472 383.6 464.3 375.5 V370 Q464.3 367.9 466 367.9 Z" fill="url(#sideg)"/>
<rect x="464.3" y="367.9" width="261.7" height="3" fill="#111"/>
<rect x="547.5" y="383.6" width="136" height="8" fill="#3a3a3a"/>
<rect x="547.5" y="389" width="136" height="2.6" fill="#262626"/>
<rect x="547.5" y="391.5" width="36" height="4.4" fill="#1e1e1e"/>
<rect x="509.9" y="384.5" width="37.6" height="11.4" rx="1" fill="#1a1a1a"/>
<rect x="511.5" y="386" width="1" height="8.5" fill="#3a3a3a"/><rect x="514.1" y="386" width="1" height="8.5" fill="#3a3a3a"/><rect x="516.7" y="386" width="1" height="8.5" fill="#3a3a3a"/><rect x="519.3" y="386" width="1" height="8.5" fill="#3a3a3a"/><rect x="521.9" y="386" width="1" height="8.5" fill="#3a3a3a"/><rect x="524.5" y="386" width="1" height="8.5" fill="#3a3a3a"/>
<rect x="527" y="387.5" width="1.6" height="5" fill="#bbb"/>
<rect x="532.5" y="387.5" width="1.6" height="5" fill="#bbb"/>
<rect x="538" y="387.5" width="1.6" height="5" fill="#999"/>
<rect x="494.1" y="384.5" width="11.7" height="15" rx="2" fill="#1a1a1a"/>
<rect x="682.7" y="384.5" width="11.8" height="15" rx="2" fill="#1a1a1a"/>

<rect x="12" y="507" width="499" height="116" fill="#1b1b1b"/>
<defs><filter id="glow" x="-100%" y="-100%" width="300%" height="300%"><feGaussianBlur stdDeviation="1.2"/></filter></defs>
<circle cx="69.5" cy="534.3" r="4" fill="#c80010" filter="url(#glow)"/>
<circle cx="111" cy="534.3" r="4" fill="#c80010" filter="url(#glow)"/>
<circle cx="150.5" cy="534.3" r="4" fill="#c80010" filter="url(#glow)"/>
<circle cx="193.8" cy="534.3" r="4" fill="#c80010" filter="url(#glow)"/>
<circle cx="338.8" cy="533" r="4" fill="#c80010" filter="url(#glow)"/>
<circle cx="380.5" cy="534" r="4" fill="#c80010" filter="url(#glow)"/>
<circle cx="419.5" cy="533.5" r="4" fill="#c80010" filter="url(#glow)"/>
<circle cx="461" cy="533.5" r="4" fill="#c80010" filter="url(#glow)"/>
<circle cx="152" cy="576.3" r="3.8" fill="#d01010" filter="url(#glow)"/>
<circle cx="152" cy="576.3" r="2.0" fill="#ff2a2a"/>
<circle cx="184.25" cy="576.3" r="3.8" fill="#d01010" filter="url(#glow)"/>
<circle cx="184.25" cy="576.3" r="2.0" fill="#ff2a2a"/>
<circle cx="216.25" cy="576.3" r="3.8" fill="#d01010" filter="url(#glow)"/>
<circle cx="216.25" cy="576.3" r="2.0" fill="#ff2a2a"/>
<circle cx="248.75" cy="576.3" r="3.8" fill="#d01010" filter="url(#glow)"/>
<circle cx="248.75" cy="576.3" r="2.0" fill="#ff2a2a"/>
<circle cx="281.25" cy="576.3" r="3.8" fill="#d01010" filter="url(#glow)"/>
<circle cx="281.25" cy="576.3" r="2.0" fill="#ff2a2a"/>
<circle cx="313.75" cy="576.3" r="3.8" fill="#d01010" filter="url(#glow)"/>
<circle cx="313.75" cy="576.3" r="2.0" fill="#ff2a2a"/>
<circle cx="345.5" cy="576.3" r="3.8" fill="#d01010" filter="url(#glow)"/>
<circle cx="345.5" cy="576.3" r="2.0" fill="#ff2a2a"/>
<circle cx="378" cy="576.3" r="3.8" fill="#d01010" filter="url(#glow)"/>
<circle cx="378" cy="576.3" r="2.0" fill="#ff2a2a"/>
<text x="62.5" y="543.6" font-family="Liberation Sans" font-weight="bold" font-size="10.28" fill="#e6e6e6" textLength="12.00" lengthAdjust="spacingAndGlyphs">SÚP</text>
<text x="103.75" y="543.6" font-family="Liberation Sans" font-weight="bold" font-size="10.28" fill="#e6e6e6" textLength="13.25" lengthAdjust="spacingAndGlyphs">HẤP</text>
<text x="135.5" y="543.6" font-family="Liberation Sans" font-weight="bold" font-size="10.28" fill="#e6e6e6" textLength="32.50" lengthAdjust="spacingAndGlyphs">ĐUN NƯỚC</text>
<text x="179.25" y="543.6" font-family="Liberation Sans" font-weight="bold" font-size="10.28" fill="#e6e6e6" textLength="28.25" lengthAdjust="spacingAndGlyphs">HÂM SỮA</text>
<text x="332.5" y="543.0" font-family="Liberation Sans" font-weight="bold" font-size="9.44" fill="#e6e6e6" textLength="12.50" lengthAdjust="spacingAndGlyphs">XÀO</text>
<text x="374" y="543.0" font-family="Liberation Sans" font-weight="bold" font-size="9.44" fill="#e6e6e6" textLength="12.00" lengthAdjust="spacingAndGlyphs">LẨU</text>
<text x="415" y="542.8" font-family="Liberation Sans" font-weight="bold" font-size="8.75" fill="#e6e6e6" textLength="13.00" lengthAdjust="spacingAndGlyphs">BBQ</text>
<text x="455.25" y="542.8" font-family="Liberation Sans" font-weight="bold" font-size="8.75" fill="#e6e6e6" textLength="15.75" lengthAdjust="spacingAndGlyphs">CHÁO</text>
<text x="16.25" y="571.2" font-family="Liberation Sans" font-weight="bold" font-size="10.00" fill="#e6e6e6" textLength="45.75" lengthAdjust="spacingAndGlyphs">KHÓA AN TOÀN</text>
<text x="35" y="609.6" font-family="Liberation Sans" font-weight="bold" font-size="9.86" fill="#e6e6e6" textLength="33.00" lengthAdjust="spacingAndGlyphs">TẠM DỪNG</text>
<text x="81.25" y="609.6" font-family="Liberation Sans" font-weight="bold" font-size="9.86" fill="#e6e6e6" textLength="26.25" lengthAdjust="spacingAndGlyphs">HẸN GIỜ</text>
<text x="479.75" y="569.9" font-family="Liberation Sans" font-weight="bold" font-size="8.75" fill="#e6e6e6" textLength="22.75" lengthAdjust="spacingAndGlyphs">MỞ/TẮT</text>
<text x="419.4" y="608.3" font-family="Liberation Sans" font-weight="bold" font-size="9.72" fill="#e6e6e6" textLength="35.00" lengthAdjust="spacingAndGlyphs">CHỨC NĂNG</text>
<text x="465.2" y="608.3" font-family="Liberation Sans" font-weight="bold" font-size="9.72" fill="#e6e6e6" textLength="27.30" lengthAdjust="spacingAndGlyphs">BOOSTER</text>
<text x="143.75" y="562.6" font-family="Liberation Sans" font-weight="normal" font-size="8.80" fill="#d8d8d8" textLength="15.75" lengthAdjust="spacingAndGlyphs">200</text>
<text x="176.25" y="562.6" font-family="Liberation Sans" font-weight="normal" font-size="8.80" fill="#d8d8d8" textLength="15.75" lengthAdjust="spacingAndGlyphs">500</text>
<text x="209.25" y="562.6" font-family="Liberation Sans" font-weight="normal" font-size="8.80" fill="#d8d8d8" textLength="15.00" lengthAdjust="spacingAndGlyphs">800</text>
<text x="240" y="562.6" font-family="Liberation Sans" font-weight="normal" font-size="8.80" fill="#d8d8d8" textLength="19.25" lengthAdjust="spacingAndGlyphs">1000</text>
<text x="272.5" y="562.6" font-family="Liberation Sans" font-weight="normal" font-size="8.80" fill="#d8d8d8" textLength="18.75" lengthAdjust="spacingAndGlyphs">1300</text>
<text x="305" y="562.6" font-family="Liberation Sans" font-weight="normal" font-size="8.80" fill="#d8d8d8" textLength="18.75" lengthAdjust="spacingAndGlyphs">1600</text>
<text x="337.5" y="562.6" font-family="Liberation Sans" font-weight="normal" font-size="8.80" fill="#d8d8d8" textLength="19.25" lengthAdjust="spacingAndGlyphs">1800</text>
<text x="365" y="562.6" font-family="Liberation Sans" font-weight="normal" font-size="8.80" fill="#d8d8d8" textLength="28.75" lengthAdjust="spacingAndGlyphs">2000W</text>
<rect x="217.3" y="520.2" width="96.3" height="33" fill="none" stroke="#2f7ed8" stroke-width="1.2"/>
<rect x="138.3" y="569.5" width="254.2" height="35.6" fill="none" stroke="#2f7ed8" stroke-width="1.2"/>
<line x1="227.3" y1="527.5" x2="239.1" y2="527.5" stroke="#501414" stroke-width="1.7" stroke-linecap="round"/>
<line x1="226.2" y1="539.1" x2="238.0" y2="539.1" stroke="#501414" stroke-width="1.7" stroke-linecap="round"/>
<line x1="225.1" y1="550.7" x2="236.9" y2="550.7" stroke="#501414" stroke-width="1.7" stroke-linecap="round"/>
<line x1="225.0" y1="529.6" x2="224.3" y2="537.0" stroke="#501414" stroke-width="1.7" stroke-linecap="round"/>
<line x1="223.9" y1="541.2" x2="223.2" y2="548.6" stroke="#501414" stroke-width="1.7" stroke-linecap="round"/>
<line x1="241.0" y1="529.6" x2="240.3" y2="537.0" stroke="#501414" stroke-width="1.7" stroke-linecap="round"/>
<line x1="239.9" y1="541.2" x2="239.2" y2="548.6" stroke="#501414" stroke-width="1.7" stroke-linecap="round"/>
<line x1="250.0" y1="527.5" x2="261.8" y2="527.5" stroke="#501414" stroke-width="1.7" stroke-linecap="round"/>
<line x1="248.9" y1="539.1" x2="260.7" y2="539.1" stroke="#501414" stroke-width="1.7" stroke-linecap="round"/>
<line x1="247.8" y1="550.7" x2="259.6" y2="550.7" stroke="#501414" stroke-width="1.7" stroke-linecap="round"/>
<line x1="247.7" y1="529.6" x2="247.0" y2="537.0" stroke="#501414" stroke-width="1.7" stroke-linecap="round"/>
<line x1="246.6" y1="541.2" x2="245.9" y2="548.6" stroke="#501414" stroke-width="1.7" stroke-linecap="round"/>
<line x1="263.7" y1="529.6" x2="263.0" y2="537.0" stroke="#501414" stroke-width="1.7" stroke-linecap="round"/>
<line x1="262.6" y1="541.2" x2="261.9" y2="548.6" stroke="#501414" stroke-width="1.7" stroke-linecap="round"/>
<line x1="272.7" y1="527.5" x2="284.5" y2="527.5" stroke="#501414" stroke-width="1.7" stroke-linecap="round"/>
<line x1="271.6" y1="539.1" x2="283.4" y2="539.1" stroke="#501414" stroke-width="1.7" stroke-linecap="round"/>
<line x1="270.5" y1="550.7" x2="282.3" y2="550.7" stroke="#501414" stroke-width="1.7" stroke-linecap="round"/>
<line x1="270.4" y1="529.6" x2="269.7" y2="537.0" stroke="#501414" stroke-width="1.7" stroke-linecap="round"/>
<line x1="269.3" y1="541.2" x2="268.6" y2="548.6" stroke="#501414" stroke-width="1.7" stroke-linecap="round"/>
<line x1="286.4" y1="529.6" x2="285.7" y2="537.0" stroke="#501414" stroke-width="1.7" stroke-linecap="round"/>
<line x1="285.3" y1="541.2" x2="284.6" y2="548.6" stroke="#501414" stroke-width="1.7" stroke-linecap="round"/>
<line x1="295.4" y1="527.5" x2="307.2" y2="527.5" stroke="#501414" stroke-width="1.7" stroke-linecap="round"/>
<line x1="294.3" y1="539.1" x2="306.1" y2="539.1" stroke="#501414" stroke-width="1.7" stroke-linecap="round"/>
<line x1="293.2" y1="550.7" x2="305.0" y2="550.7" stroke="#501414" stroke-width="1.7" stroke-linecap="round"/>
<line x1="293.1" y1="529.6" x2="292.4" y2="537.0" stroke="#501414" stroke-width="1.7" stroke-linecap="round"/>
<line x1="292.0" y1="541.2" x2="291.3" y2="548.6" stroke="#501414" stroke-width="1.7" stroke-linecap="round"/>
<line x1="309.1" y1="529.6" x2="308.4" y2="537.0" stroke="#501414" stroke-width="1.7" stroke-linecap="round"/>
<line x1="308.0" y1="541.2" x2="307.3" y2="548.6" stroke="#501414" stroke-width="1.7" stroke-linecap="round"/>
<line x1="165.50" y1="586.3" x2="165.50" y2="599.5" stroke="rgb(150,150,150)" stroke-width="1.2"/>
<line x1="168.90" y1="586.3" x2="168.90" y2="599.5" stroke="rgb(151,151,151)" stroke-width="1.2"/>
<line x1="172.30" y1="586.3" x2="172.30" y2="599.5" stroke="rgb(153,153,153)" stroke-width="1.2"/>
<line x1="175.69" y1="586.3" x2="175.69" y2="599.5" stroke="rgb(154,154,154)" stroke-width="1.2"/>
<line x1="179.09" y1="586.3" x2="179.09" y2="599.5" stroke="rgb(156,156,156)" stroke-width="1.2"/>
<line x1="182.49" y1="586.3" x2="182.49" y2="599.5" stroke="rgb(158,158,158)" stroke-width="1.2"/>
<line x1="185.89" y1="586.3" x2="185.89" y2="599.5" stroke="rgb(159,159,159)" stroke-width="1.2"/>
<line x1="189.29" y1="586.3" x2="189.29" y2="599.5" stroke="rgb(161,161,161)" stroke-width="1.2"/>
<line x1="192.69" y1="586.3" x2="192.69" y2="599.5" stroke="rgb(162,162,162)" stroke-width="1.2"/>
<line x1="196.08" y1="586.3" x2="196.08" y2="599.5" stroke="rgb(164,164,164)" stroke-width="1.2"/>
<line x1="199.48" y1="586.3" x2="199.48" y2="599.5" stroke="rgb(166,166,166)" stroke-width="1.2"/>
<line x1="202.88" y1="586.3" x2="202.88" y2="599.5" stroke="rgb(167,167,167)" stroke-width="1.2"/>
<line x1="206.28" y1="586.3" x2="206.28" y2="599.5" stroke="rgb(169,169,169)" stroke-width="1.2"/>
<line x1="209.68" y1="586.3" x2="209.68" y2="599.5" stroke="rgb(170,170,170)" stroke-width="1.2"/>
<line x1="213.08" y1="586.3" x2="213.08" y2="599.5" stroke="rgb(172,172,172)" stroke-width="1.2"/>
<line x1="216.47" y1="586.3" x2="216.47" y2="599.5" stroke="rgb(174,174,174)" stroke-width="1.2"/>
<line x1="219.87" y1="586.3" x2="219.87" y2="599.5" stroke="rgb(175,175,175)" stroke-width="1.2"/>
<line x1="223.27" y1="586.3" x2="223.27" y2="599.5" stroke="rgb(177,177,177)" stroke-width="1.2"/>
<line x1="226.67" y1="586.3" x2="226.67" y2="599.5" stroke="rgb(178,178,178)" stroke-width="1.2"/>
<line x1="230.07" y1="586.3" x2="230.07" y2="599.5" stroke="rgb(180,180,180)" stroke-width="1.2"/>
<line x1="233.47" y1="586.3" x2="233.47" y2="599.5" stroke="rgb(182,182,182)" stroke-width="1.2"/>
<line x1="236.86" y1="586.3" x2="236.86" y2="599.5" stroke="rgb(183,183,183)" stroke-width="1.2"/>
<line x1="240.26" y1="586.3" x2="240.26" y2="599.5" stroke="rgb(185,185,185)" stroke-width="1.2"/>
<line x1="243.66" y1="586.3" x2="243.66" y2="599.5" stroke="rgb(187,187,187)" stroke-width="1.2"/>
<line x1="247.06" y1="586.3" x2="247.06" y2="599.5" stroke="rgb(188,188,188)" stroke-width="1.2"/>
<line x1="250.46" y1="586.3" x2="250.46" y2="599.5" stroke="rgb(190,190,190)" stroke-width="1.2"/>
<line x1="253.86" y1="586.3" x2="253.86" y2="599.5" stroke="rgb(191,191,191)" stroke-width="1.2"/>
<line x1="257.25" y1="586.3" x2="257.25" y2="599.5" stroke="rgb(193,193,193)" stroke-width="1.2"/>
<line x1="260.65" y1="586.3" x2="260.65" y2="599.5" stroke="rgb(195,195,195)" stroke-width="1.2"/>
<line x1="264.05" y1="586.3" x2="264.05" y2="599.5" stroke="rgb(196,196,196)" stroke-width="1.2"/>
<line x1="267.45" y1="586.3" x2="267.45" y2="599.5" stroke="rgb(198,198,198)" stroke-width="1.2"/>
<line x1="270.85" y1="586.3" x2="270.85" y2="599.5" stroke="rgb(199,199,199)" stroke-width="1.2"/>
<line x1="274.25" y1="586.3" x2="274.25" y2="599.5" stroke="rgb(201,201,201)" stroke-width="1.2"/>
<line x1="277.64" y1="586.3" x2="277.64" y2="599.5" stroke="rgb(203,203,203)" stroke-width="1.2"/>
<line x1="281.04" y1="586.3" x2="281.04" y2="599.5" stroke="rgb(204,204,204)" stroke-width="1.2"/>
<line x1="284.44" y1="586.3" x2="284.44" y2="599.5" stroke="rgb(206,206,206)" stroke-width="1.2"/>
<line x1="287.84" y1="586.3" x2="287.84" y2="599.5" stroke="rgb(207,207,207)" stroke-width="1.2"/>
<line x1="291.24" y1="586.3" x2="291.24" y2="599.5" stroke="rgb(209,209,209)" stroke-width="1.2"/>
<line x1="294.64" y1="586.3" x2="294.64" y2="599.5" stroke="rgb(211,211,211)" stroke-width="1.2"/>
<line x1="298.03" y1="586.3" x2="298.03" y2="599.5" stroke="rgb(212,212,212)" stroke-width="1.2"/>
<line x1="301.43" y1="586.3" x2="301.43" y2="599.5" stroke="rgb(214,214,214)" stroke-width="1.2"/>
<line x1="304.83" y1="586.3" x2="304.83" y2="599.5" stroke="rgb(216,216,216)" stroke-width="1.2"/>
<line x1="308.23" y1="586.3" x2="308.23" y2="599.5" stroke="rgb(217,217,217)" stroke-width="1.2"/>
<line x1="311.63" y1="586.3" x2="311.63" y2="599.5" stroke="rgb(219,219,219)" stroke-width="1.2"/>
<line x1="315.03" y1="586.3" x2="315.03" y2="599.5" stroke="rgb(220,220,220)" stroke-width="1.2"/>
<line x1="318.42" y1="586.3" x2="318.42" y2="599.5" stroke="rgb(222,222,222)" stroke-width="1.2"/>
<line x1="321.82" y1="586.3" x2="321.82" y2="599.5" stroke="rgb(224,224,224)" stroke-width="1.2"/>
<line x1="325.22" y1="586.3" x2="325.22" y2="599.5" stroke="rgb(225,225,225)" stroke-width="1.2"/>
<line x1="328.62" y1="586.3" x2="328.62" y2="599.5" stroke="rgb(227,227,227)" stroke-width="1.2"/>
<line x1="332.02" y1="586.3" x2="332.02" y2="599.5" stroke="rgb(228,228,228)" stroke-width="1.2"/>
<line x1="335.42" y1="586.3" x2="335.42" y2="599.5" stroke="rgb(230,230,230)" stroke-width="1.2"/>
<line x1="338.81" y1="586.3" x2="338.81" y2="599.5" stroke="rgb(232,232,232)" stroke-width="1.2"/>
<line x1="342.21" y1="586.3" x2="342.21" y2="599.5" stroke="rgb(233,233,233)" stroke-width="1.2"/>
<line x1="345.61" y1="586.3" x2="345.61" y2="599.5" stroke="rgb(235,235,235)" stroke-width="1.2"/>
<line x1="349.01" y1="586.3" x2="349.01" y2="599.5" stroke="rgb(236,236,236)" stroke-width="1.2"/>
<line x1="352.41" y1="586.3" x2="352.41" y2="599.5" stroke="rgb(238,238,238)" stroke-width="1.2"/>
<line x1="355.81" y1="586.3" x2="355.81" y2="599.5" stroke="rgb(240,240,240)" stroke-width="1.2"/>
<line x1="359.20" y1="586.3" x2="359.20" y2="599.5" stroke="rgb(241,241,241)" stroke-width="1.2"/>
<line x1="362.60" y1="586.3" x2="362.60" y2="599.5" stroke="rgb(243,243,243)" stroke-width="1.2"/>
<line x1="366.00" y1="586.3" x2="366.00" y2="599.5" stroke="rgb(245,245,245)" stroke-width="1.2"/>
<circle cx="151.8" cy="593.3" r="8.6" fill="none" stroke="#e6e6e6" stroke-width="1.4"/>
<line x1="146.3" y1="593.3" x2="157.3" y2="593.3" stroke="#e6e6e6" stroke-width="2.2"/>
<circle cx="380" cy="592.6" r="8.6" fill="none" stroke="#e6e6e6" stroke-width="1.4"/>
<line x1="374.5" y1="592.6" x2="385.5" y2="592.6" stroke="#e6e6e6" stroke-width="1.4"/>
<line x1="380" y1="587.1" x2="380" y2="598.1" stroke="#e6e6e6" stroke-width="1.4"/>
<rect x="32.5" y="550.5" width="12.5" height="10.5" rx="2" fill="none" stroke="#e6e6e6" stroke-width="1.1" stroke-linecap="round" stroke-linejoin="round"/>
<path d="M35.5 550.5 V547 A3.3 3.3 0 0 1 42.1 547 V548" fill="none" stroke="#e6e6e6" stroke-width="1.1" stroke-linecap="round" stroke-linejoin="round"/>
<circle cx="38.7" cy="556" r="1.3" fill="#e6e6e6"/>
<path d="M41.8 584 L52 590 L41.8 596 Z" fill="none" stroke="#e6e6e6" stroke-width="1.1" stroke-linecap="round" stroke-linejoin="round"/>
<line x1="56" y1="584" x2="56" y2="596" fill="none" stroke="#e6e6e6" stroke-width="1.1" stroke-linecap="round" stroke-linejoin="round"/>
<line x1="61" y1="584" x2="61" y2="596" fill="none" stroke="#e6e6e6" stroke-width="1.1" stroke-linecap="round" stroke-linejoin="round"/>
<circle cx="94.5" cy="590" r="9" fill="none" stroke="#e6e6e6" stroke-width="1.1" stroke-linecap="round" stroke-linejoin="round"/>
<path d="M94.5 584.5 V590.5 H98.5" fill="none" stroke="#e6e6e6" stroke-width="1.1" stroke-linecap="round" stroke-linejoin="round"/>
<path d="M486.5 545.5 A8.6 8.6 0 1 0 496 545.5" fill="none" stroke="#e6e6e6" stroke-width="2.3" stroke-linecap="round"/>
<line x1="491.1" y1="541.5" x2="491.1" y2="551" stroke="#e6e6e6" stroke-width="2.6" stroke-linecap="round"/>
<path d="M432.5 589 V578.5 A1.6 1.6 0 0 1 435.7 578.5 V585 M435.7 582 A1.5 1.5 0 0 1 438.7 582 V585.5 M438.7 583 A1.5 1.5 0 0 1 441.7 583 V586 M441.7 584 A1.5 1.5 0 0 1 444.5 584 V591 Q444 596.5 439 596.8 H435 Q431.5 596 429.5 592 L428.8 588.5 Q430 587 432.5 589" fill="none" stroke="#e6e6e6" stroke-width="1.1" stroke-linecap="round" stroke-linejoin="round"/>
<path d="M473 580.5 A9.6 9.6 0 1 0 485.5 580.5" fill="none" stroke="#e6e6e6" stroke-width="1.1" stroke-linecap="round" stroke-linejoin="round"/>
<path d="M473.5 592 Q475 584 479.2 580.5 Q483.5 584 485 592 Z M476 592 L479 585.5 L482.5 592" fill="none" stroke="#e6e6e6" stroke-width="1.1" stroke-linecap="round" stroke-linejoin="round"/>
<ellipse cx="69" cy="520.3" rx="6" ry="2" fill="none" stroke="#e6e6e6" stroke-width="1.1" stroke-linecap="round" stroke-linejoin="round"/>
<path d="M63 521.5 Q62 531 69 531.3 Q76 531 75 521.5" fill="none" stroke="#e6e6e6" stroke-width="1.1" stroke-linecap="round" stroke-linejoin="round"/>
<path d="M75 523 Q78.5 522.5 77.5 525.5 Q76.5 527 75 527" fill="none" stroke="#e6e6e6" stroke-width="1.1" stroke-linecap="round" stroke-linejoin="round"/>
<path d="M64.5 527.5 L66 528.2" fill="none" stroke="#e6e6e6" stroke-width="1.1" stroke-linecap="round" stroke-linejoin="round"/>
<path d="M102 524 H119 V527 H102 Z M103.5 527 V530 Q103.5 531.5 105 531.5 H116 Q117.5 531.5 117.5 530 V527" fill="none" stroke="#e6e6e6" stroke-width="1.1" stroke-linecap="round" stroke-linejoin="round"/>
<path d="M107.5 522 Q106.5 520 107.5 518 M111 522 Q110 520 111 518 M114.5 522 Q113.5 520 114.5 518" fill="none" stroke="#e6e6e6" stroke-width="1.1" stroke-linecap="round" stroke-linejoin="round"/>
<path d="M147.5 530.5 Q145 523.5 152.5 522.5 Q160 523.5 157.5 530.5 Z" fill="none" stroke="#e6e6e6" stroke-width="1.1" stroke-linecap="round" stroke-linejoin="round"/>
<path d="M147 523.5 Q147 518.5 152.5 518.5 Q158 518.5 158 523.5" fill="none" stroke="#e6e6e6" stroke-width="1.1" stroke-linecap="round" stroke-linejoin="round"/>
<path d="M146.8 526.5 L142.5 524" fill="none" stroke="#e6e6e6" stroke-width="1.1" stroke-linecap="round" stroke-linejoin="round"/>
<path d="M151.5 527.5 L153.5 526.5" fill="none" stroke="#e6e6e6" stroke-width="1.1" stroke-linecap="round" stroke-linejoin="round"/>
<path d="M189.8 523 H197.6 V531 Q197.6 532 196.6 532 H190.8 Q189.8 532 189.8 531 Z M190.5 523 V521 Q193.7 518.5 197 521 V523" fill="none" stroke="#e6e6e6" stroke-width="1.1" stroke-linecap="round" stroke-linejoin="round"/>
<path d="M192.2 525.5 H195.2 M192.2 528 H195.2 M191.5 525 V530" fill="none" stroke="#e6e6e6" stroke-width="1.1" stroke-linecap="round" stroke-linejoin="round"/>
<path d="M332.5 527 Q335 532 340 531.5 Q344.5 531 346 527 Z" fill="none" stroke="#e6e6e6" stroke-width="1.1" stroke-linecap="round" stroke-linejoin="round"/>
<path d="M344 525 L352 518.5" fill="none" stroke="#e6e6e6" stroke-width="1.1" stroke-linecap="round" stroke-linejoin="round"/>
<path d="M334 525 L338 521 M337 526 L342 519.5" fill="none" stroke="#e6e6e6" stroke-width="1.1" stroke-linecap="round" stroke-linejoin="round"/>
<path d="M373.5 525.5 H387.5 M374.5 525.5 Q374.5 531.5 380.5 531.5 Q386.5 531.5 386.5 525.5 M375.5 528.5 H385.5" fill="none" stroke="#e6e6e6" stroke-width="1.1" stroke-linecap="round" stroke-linejoin="round"/>
<path d="M377 523 Q376 520.5 377.5 518.5 M380.5 523 Q379.5 520.5 381 518.5 M384 523 Q383 520.5 384.5 518.5" fill="none" stroke="#e6e6e6" stroke-width="1.1" stroke-linecap="round" stroke-linejoin="round"/>
<path d="M416 528 L427 519.5 Q430 520 429.5 523 L418.5 531.5 Q415 531.5 416 528 Z" fill="none" stroke="#e6e6e6" stroke-width="1.1" stroke-linecap="round" stroke-linejoin="round"/>
<path d="M419 526 L424 530 M422 523.5 L427 527.5 M425 521 L429 524" fill="none" stroke="#e6e6e6" stroke-width="1.1" stroke-linecap="round" stroke-linejoin="round"/>
<path d="M414 527.5 L411.5 525.5" fill="none" stroke="#e6e6e6" stroke-width="1.1" stroke-linecap="round" stroke-linejoin="round"/>
<path d="M456 523 Q456.5 531 463.5 531.5 Q470.5 531 471 523 Z" fill="none" stroke="#e6e6e6" stroke-width="1.1" stroke-linecap="round" stroke-linejoin="round"/>
<path d="M458 521.5 Q463.5 518.5 469 521.5" fill="none" stroke="#e6e6e6" stroke-width="1.1" stroke-linecap="round" stroke-linejoin="round"/>
<path d="M466.5 520 L472 516.5 M467.5 521 L473 518" fill="none" stroke="#e6e6e6" stroke-width="1.1" stroke-linecap="round" stroke-linejoin="round"/>
<defs>
<linearGradient id="potb" x1="0" x2="1" y1="0" y2="0"><stop offset="0" stop-color="#bdbdbd"/><stop offset="0.25" stop-color="#e9e9e9"/><stop offset="0.55" stop-color="#e2e2e2"/><stop offset="0.85" stop-color="#d0d0d0"/><stop offset="1" stop-color="#b4b4b4"/></linearGradient>
<radialGradient id="lidg" cx="0.5" cy="0.6" r="0.6"><stop offset="0" stop-color="#d2d2d2"/><stop offset="0.6" stop-color="#c4c4c4"/><stop offset="0.9" stop-color="#cfcfcf"/><stop offset="1" stop-color="#dadada"/></radialGradient>
<linearGradient id="knob" x1="0" x2="0" y1="0" y2="1"><stop offset="0" stop-color="#f6f6f6"/><stop offset="0.6" stop-color="#d0d0d0"/><stop offset="1" stop-color="#8a8a8a"/></linearGradient>
</defs>
<path d="M598 577.5 Q572 574 564 578 Q558 582 560 587 Q562 592 572 593 L600 593.5" fill="none" stroke="#8e8e8e" stroke-width="6.5" stroke-linejoin="round"/>
<path d="M598 577.5 Q572 574 564 578 Q558 582 560 587 Q562 592 572 593 L600 593.5" fill="none" stroke="#e4e4e4" stroke-width="3.6" stroke-linejoin="round"/>
<path d="M704 548 Q714 544 720 548 Q725 553 722 559 Q718 566 708 568" fill="none" stroke="#8e8e8e" stroke-width="6" stroke-linejoin="round"/>
<path d="M704 548 Q714 544 720 548 Q725 553 722 559 Q718 566 708 568" fill="none" stroke="#e2e2e2" stroke-width="3.2" stroke-linejoin="round"/>
<path d="M578.5 566 Q579 600 590 607 Q610 617 645 616.5 Q682 617 700 607 Q711 600 710.5 566 Z" fill="url(#potb)"/>
<path d="M582 600 Q610 613 645 613 Q682 613 708 600" fill="none" stroke="#c4c4c4" stroke-width="1"/>
<ellipse cx="644.5" cy="561.8" rx="69.5" ry="27.3" fill="#7e7e7e"/>
<ellipse cx="644.5" cy="561.7" rx="68.2" ry="26.1" fill="#e4e4e4"/>
<ellipse cx="644.5" cy="562" rx="65.6" ry="23.8" fill="#8e8e8e"/>
<ellipse cx="644.5" cy="562.2" rx="64.6" ry="22.8" fill="url(#lidg)"/>
<path d="M586 572 Q600 552 645 551 Q690 552 703 572" fill="none" stroke="#bcbcbc" stroke-width="1.2"/>
<path d="M592 580 Q640 596 698 579" fill="none" stroke="#ededed" stroke-width="2.4" opacity="0.9"/>
<path d="M608 578 Q645 590 682 578" fill="none" stroke="#b8b8b8" stroke-width="1.5" opacity="0.8"/>
<ellipse cx="645" cy="554.5" rx="7.5" ry="4" fill="#8c8c8c"/>
<ellipse cx="645" cy="547" rx="11.8" ry="5.4" fill="url(#knob)" stroke="#8e8e8e" stroke-width="0.7"/>
<ellipse cx="644" cy="545.6" rx="6.5" ry="2.3" fill="#ffffff" opacity="0.7"/>

<line x1="451.40" y1="17.20" x2="451.40" y2="317.10" stroke="#8c8c8c" stroke-width="1.3"/><polygon points="451.40,10.00 448.80,19.00 454.00,19.00" fill="#8c8c8c"/><polygon points="451.40,324.30 448.80,315.30 454.00,315.30" fill="#8c8c8c"/><line x1="471.90" y1="335.50" x2="718.30" y2="335.50" stroke="#8c8c8c" stroke-width="1.3"/><polygon points="464.70,335.50 473.70,338.10 473.70,332.90" fill="#8c8c8c"/><polygon points="725.50,335.50 716.50,338.10 716.50,332.90" fill="#8c8c8c"/><line x1="453.50" y1="374.10" x2="453.50" y2="398.90" stroke="#8c8c8c" stroke-width="1.3"/><polygon points="453.50,368.50 450.90,375.50 456.10,375.50" fill="#8c8c8c"/><polygon points="453.50,404.50 450.90,397.50 456.10,397.50" fill="#8c8c8c"/><line x1="555.25" y1="537.77" x2="710.95" y2="519.63" stroke="#8c8c8c" stroke-width="1.3"/><polygon points="548.10,538.60 557.34,540.14 556.74,534.98" fill="#8c8c8c"/><polygon points="718.10,518.80 709.46,522.42 708.86,517.26" fill="#8c8c8c"/><line x1="731.70" y1="548.10" x2="731.70" y2="598.70" stroke="#8c8c8c" stroke-width="1.3"/><polygon points="731.70,540.90 729.10,549.90 734.30,549.90" fill="#8c8c8c"/><polygon points="731.70,605.90 729.10,596.90 734.30,596.90" fill="#8c8c8c"/><line x1="603.10" y1="625.40" x2="692.00" y2="625.40" stroke="#8c8c8c" stroke-width="1.3"/><polygon points="595.90,625.40 604.90,628.00 604.90,622.80" fill="#8c8c8c"/><polygon points="699.20,625.40 690.20,628.00 690.20,622.80" fill="#8c8c8c"/>
<line x1="72" y1="117.5" x2="123" y2="117.5" stroke="#2f7ed8" stroke-width="1.3"/><line x1="667.5" y1="231.3" x2="740" y2="231.3" stroke="#2f7ed8" stroke-width="1.3"/><line x1="36.2" y1="460" x2="36.2" y2="558" stroke="#2f7ed8" stroke-width="1.3"/><line x1="70.5" y1="494" x2="70.5" y2="528" stroke="#2f7ed8" stroke-width="1.3"/><line x1="111.5" y1="494" x2="111.5" y2="528" stroke="#2f7ed8" stroke-width="1.3"/><line x1="150" y1="460" x2="150" y2="528" stroke="#2f7ed8" stroke-width="1.3"/><line x1="195.3" y1="494" x2="195.3" y2="528" stroke="#2f7ed8" stroke-width="1.3"/><line x1="265.4" y1="460" x2="265.4" y2="520.3" stroke="#2f7ed8" stroke-width="1.3"/><line x1="338.5" y1="476" x2="338.5" y2="528" stroke="#2f7ed8" stroke-width="1.3"/><line x1="380.5" y1="495" x2="380.5" y2="528" stroke="#2f7ed8" stroke-width="1.3"/><line x1="422.5" y1="460" x2="422.5" y2="528" stroke="#2f7ed8" stroke-width="1.3"/><line x1="464.4" y1="494" x2="464.4" y2="528" stroke="#2f7ed8" stroke-width="1.3"/><line x1="493.4" y1="460" x2="493.4" y2="552" stroke="#2f7ed8" stroke-width="1.3"/><line x1="44.2" y1="593" x2="44.2" y2="638" stroke="#2f7ed8" stroke-width="1.3"/><line x1="95.2" y1="593" x2="95.2" y2="638" stroke="#2f7ed8" stroke-width="1.3"/><line x1="266" y1="605.5" x2="266" y2="638" stroke="#2f7ed8" stroke-width="1.3"/><polyline points="427.2,648.8 440.8,648.8 440.8,592" fill="none" stroke="#2f7ed8" stroke-width="1.3"/><line x1="479.2" y1="591" x2="479.2" y2="638" stroke="#2f7ed8" stroke-width="1.3"/>
</svg>
<div class="t" style="left:5.6px;top:106.7px;font-size:18px;line-height:18px;">Mặt bếp</div><div class="t" style="left:319.8px;top:159.1px;width:200px;text-align:center;font-size:17px;line-height:17px;">39 cm</div><div class="t" style="left:743.7px;top:199.9px;font-size:17px;line-height:17px;">Quạt</div><div class="t" style="left:743.7px;top:221.3px;font-size:17px;line-height:17px;">tản</div><div class="t" style="left:743.7px;top:243.1px;font-size:17px;line-height:17px;">nhiệt</div><div class="t" style="left:494.9px;top:338.0px;width:200px;text-align:center;font-size:17px;line-height:17px;">32 cm</div><div class="t" style="left:327.2px;top:376.7px;width:200px;text-align:center;font-size:17px;line-height:17px;">4 cm</div><div class="t" style="left:-64.5px;top:420.9px;width:200px;text-align:center;font-size:17px;line-height:17px;">Khóa</div><div class="t" style="left:-64.5px;top:441.1px;width:200px;text-align:center;font-size:17px;line-height:17px;">an toàn</div><div class="t" style="left:-30.5px;top:476.2px;width:200px;text-align:center;font-size:17px;line-height:17px;">Súp</div><div class="t" style="left:12.6px;top:476.2px;width:200px;text-align:center;font-size:17px;line-height:17px;">Hấp</div><div class="t" style="left:49.5px;top:420.6px;width:200px;text-align:center;font-size:17px;line-height:17px;">Đun</div><div class="t" style="left:49.5px;top:441.1px;width:200px;text-align:center;font-size:17px;line-height:17px;">nước</div><div class="t" style="left:94.6px;top:476.2px;width:200px;text-align:center;font-size:17px;line-height:17px;">Hâm sữa</div><div class="t" style="left:165.4px;top:420.0px;width:200px;text-align:center;font-size:17px;line-height:17px;">Màn hình</div><div class="t" style="left:165.4px;top:441.3px;width:200px;text-align:center;font-size:17px;line-height:17px;">hiển thị</div><div class="t" style="left:238.9px;top:457.5px;width:200px;text-align:center;font-size:17px;line-height:17px;">Xào</div><div class="t" style="left:279.8px;top:476.6px;width:200px;text-align:center;font-size:17px;line-height:17px;">Lẩu</div><div class="t" style="left:324.9px;top:441.2px;width:200px;text-align:center;font-size:17px;line-height:17px;">BBQ</div><div class="t" style="left:392.7px;top:441.2px;width:200px;text-align:center;font-size:17px;line-height:17px;">Mở/Tắt</div><div class="t" style="left:364.2px;top:476.0px;width:200px;text-align:center;font-size:17px;line-height:17px;">Cháo</div><div class="t" style="left:-55.3px;top:640.7px;width:200px;text-align:center;font-size:17px;line-height:17px;">Tạm</div><div class="t" style="left:-55.3px;top:661.5px;width:200px;text-align:center;font-size:17px;line-height:17px;">dừng</div><div class="t" style="left:-5.0px;top:640.7px;width:200px;text-align:center;font-size:17px;line-height:17px;">Hẹn</div><div class="t" style="left:-5.0px;top:661.5px;width:200px;text-align:center;font-size:17px;line-height:17px;">giờ</div><div class="t" style="left:166.0px;top:640.7px;width:200px;text-align:center;font-size:17px;line-height:17px;">Tăng/Giảm</div><div class="t" style="left:166.0px;top:661.5px;width:200px;text-align:center;font-size:17px;line-height:17px;">nhiệt độ</div><div class="t" style="left:282.0px;top:640.7px;width:200px;text-align:center;font-size:17px;line-height:17px;">Chức năng</div><div class="t" style="left:380.7px;top:640.7px;width:200px;text-align:center;font-size:17px;line-height:17px;">Công</div><div class="t" style="left:380.7px;top:661.5px;width:200px;text-align:center;font-size:17px;line-height:17px;">suất cao</div><div class="t" style="left:542.0px;top:468.2px;width:200px;text-align:center;font-size:17px;line-height:17px;">Phụ kiện kèm theo: Nồi</div><div class="t" style="left:529.7px;top:499.1px;width:200px;text-align:center;font-size:17px;line-height:17px;">34.5 cm</div><div class="t" style="left:662.1px;top:569.7px;width:200px;text-align:center;font-size:17px;line-height:17px;">11 cm</div><div class="t" style="left:547.2px;top:633.7px;width:200px;text-align:center;font-size:17px;line-height:17px;">18.5 cm</div>
</body></html>
